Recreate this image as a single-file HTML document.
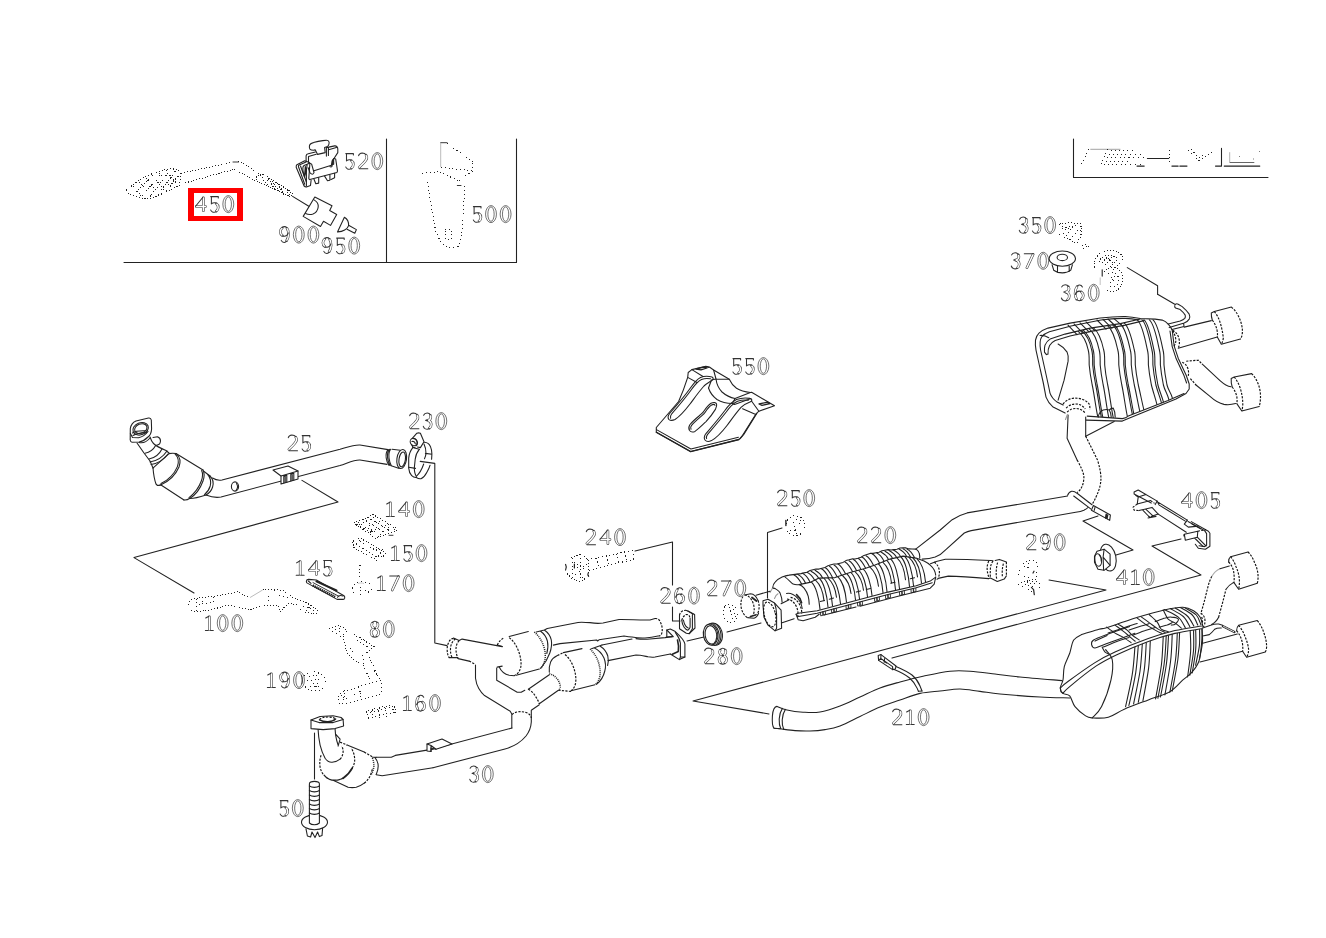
<!DOCTYPE html>
<html><head><meta charset="utf-8"><title>Exhaust system diagram</title>
<style>
html,body{margin:0;padding:0;background:#fff;}
body{width:1326px;height:938px;overflow:hidden;font-family:"Liberation Sans",sans-serif;}
svg{display:block;position:absolute;left:0;top:0;}
.l{fill:none;stroke:#222;stroke-width:1.08;stroke-linecap:round;stroke-linejoin:round;}
.w{fill:#fff;stroke:#222;stroke-width:1.08;stroke-linecap:round;stroke-linejoin:round;}
.f{fill:#262626;stroke:none;}
.d{fill:none;stroke:#222;stroke-width:1;stroke-dasharray:1 1.9;shape-rendering:crispEdges;}
.d2{fill:none;stroke:#222;stroke-width:1;stroke-dasharray:1 1.4;shape-rendering:crispEdges;}
.dd{stroke-dasharray:2.2 1.3;stroke-linecap:butt;stroke:#111;stroke-width:1.15;}
.dh{stroke-width:1.5;stroke-dasharray:1 1;stroke-linecap:butt;}
.d3{fill:none;stroke:#222;stroke-width:1;stroke-dasharray:1 2.8;shape-rendering:crispEdges;}
.gk{fill:none;stroke:#383838;stroke-width:2.6;stroke-linecap:round;stroke-linejoin:round;}
.gw{fill:none;stroke:#fff;stroke-width:1.5;stroke-linecap:round;stroke-linejoin:round;}
.gn{fill:none;stroke:#333;stroke-width:1.05;stroke-linecap:round;stroke-linejoin:round;}
.t{font-family:"Liberation Sans",sans-serif;font-size:22px;fill:#000;fill-opacity:0;stroke:none;}
.go{fill:none;stroke:#383838;stroke-width:0.7;}
</style></head><body>
<svg width="1326" height="938" viewBox="0 0 1326 938">
<rect width="1326" height="938" fill="#fff"/>

<!-- 00_frames.svg -->
<g id="frames" class="l">
<path d="M124 262.5H516.5V139M386.5 139V262"/>
<path d="M1073.5 139V177.5H1268"/>
</g>
<path d="M188 188H243V221H188ZM194 193V216H237V193Z" fill="#ff0000" fill-rule="evenodd"/>
<!-- 05_leaders.svg -->
<g id="leaders" class="l">
<path d="M302 480.4L338 502L134 557.6L194 593"/>
<path d="M420.2 461.4L434.8 463.4V643L447 645.6"/>
<path d="M314.5 733V779"/>
<path d="M635 551L672.5 542V585M672.5 607V621H680"/>
<path d="M782 528L767.5 532.4V598"/>
<path d="M687 641L704 637M727 632L761 623"/>
<path d="M769 714L693 701L1106 590L1049 580"/>
<path d="M892 658L1201 575L1152 546L1181 539"/>
<path d="M1098 516L1083 521L1133 550L1116 555"/>
</g>
<!-- 10_topleft.svg -->
<g id="clip520" class="l">
<path d="M309.4 146.1C309.5 144 311 143.2 313.5 142.6C317 141.6 320 141 322.8 140.6C325 140.3 327.5 140 328.1 140.6C329.3 141.5 329.4 142.6 329 143.8C328.7 145.2 328.2 146 327.5 146.4L324.6 147.6L325.2 152.6L317.6 154.4L315.2 149.7C314.5 150 314 150.2 313.5 150.2C312 150.2 310.5 149.8 309.9 149.1C309.5 148.3 309.3 147.2 309.4 146.1Z"/>
<path d="M326.4 147.9V156.1M328.4 147.6V155.5M326.4 147.6L334.6 145.9C335.6 145.8 336.4 146.1 336.9 146.7C337.5 147.4 337.8 148.2 337.8 149.1V152.6L334 158.5M328.7 149.7L336.3 147.6"/>
<path d="M306.1 162V155.8C306.3 154.6 307 154 308.2 153.8L315.4 152M308.5 162.3V156.4L316.2 154.3"/>
<path d="M309.4 162.6L304.7 160.8L296.9 164.7C296.3 165.3 296.1 166.2 296.2 167.3L304.1 186C304.8 186.7 305.6 187 306.4 186.9L310.5 185.4L311.1 180.2"/>
<path d="M298.4 166.5L304.7 184.3M298.4 166.5C298.3 165.8 298.6 165.3 299.2 165L305.5 162.2M300.5 166L306.4 182"/>
<path d="M306.4 186V170.2M306.4 170.2L307.2 164.5M302.9 171L302.9 167.8C303 166.6 303.4 165.9 304.1 165.5L307 164.3L309.4 163.2C310.6 163.3 311.4 163.7 311.7 164.3L314 172.5C313.8 173.6 313.2 174.2 312.3 174.3C311.2 174 310.4 173.4 309.9 172.5L308.2 167.8"/>
<path d="M302.9 171L304.5 177M305.3 166.5L304.5 177L306.3 170.5Z" fill="#2a2a2a"/>
<path d="M309.9 163L308.8 178.4C309 179.2 309.4 179.6 309.9 179.6L336.9 172.5C337.3 172 337.5 171.4 337.5 170.8L335.7 159L334 158.5"/>
<path d="M314 170.8L332.2 164.9V160.8L334 158.5M332.2 164.9C332.4 166 332 166.8 331.2 167C330.4 167 329.9 166.6 329.9 165.9"/>
<path d="M332.4 160.5L333.6 158.8L333.7 164.3L331.5 164.8Z" fill="#2a2a2a"/>
<path d="M314 179.2L315.8 183.7L318.7 183.1V177.6M324.6 176.1L327.5 180.7L329.9 180.2V174.9M334.6 173.3V177.8L331.1 179.5"/>
</g>
<g id="conn900" class="l">
<path d="M292.6 196.4L308.8 206.2"/>
<path d="M314.8 197L332 205.8L329.7 210.5L336.7 214.5L330.5 225.4L323.5 221.3L320.5 226.5L303.2 216.4Z"/>
<path d="M313.7 199.6C317 201.5 318.6 204.3 318.2 207C317.8 210.5 315.5 212.9 313 213.9C310.5 214.8 307.8 214.5 305.6 213.5"/>
<path d="M344.4 217.3C347 218.8 348.8 222 348.6 225.6C347.5 229 343 232 337.5 231.9Z"/>
<path d="M348.6 225.3L356.4 229.6L354.8 233.2L347 229.2"/>
</g>
<!-- 11_dotted_topleft.svg -->
<g id="sensor450">
<path class="d" d="M126.5 190C132 185.5 138 180.5 144.4 177.1C154 172.5 164 169.5 174.3 168.3L181 171.7"/>
<path class="d" d="M126.5 190.5L128.5 193.6C135 196.5 143 198.8 149.9 198.9C160 195 170 190 179.7 185.3L181 172"/>
<path class="d" d="M133 186.5L141 195.5M139 182L151 195.5M146 178L158 193.5M152 175.5L165 190.5M159 173L171 187.5M166 170.5L177 184M173 169L180 178"/>
<path class="d" d="M136 192L150 178M142 195.5L160 175.5M150 197L168 173M158 194.5L175 172M166 190.5L179 175"/>
<path class="d" d="M181 173.2L231.3 162.4M185 183L234 169.2"/>
<path class="l" d="M233 162H238.5" style="stroke-width:.9"/>
<path class="d" d="M238 161.8C241 162 243 163 245 164.5L262 176M234 169.2L257 181.5"/>
<path class="d2" d="M256 176.5L262 174L291 191.5L288.5 196L257 181.5Z"/>
<path class="d" d="M262 177.5L268 186M267 176L275 190M272 181L280 192.5M278 184L284 195M270 178L263 183.5M277 182L270 188M284 187L277 192"/>
<path class="d2" d="M288 190.5L292.5 193.5L290.5 196.5L287 195Z"/>
</g>
<g id="bracket500">
<path class="l" d="M440.7 142.7H447.1" style="stroke-width:.9"/>
<path d="M440.7 143V167" stroke="#aaa" stroke-width=".8" fill="none"/>
<path class="d3" d="M447.5 143.5L473.3 162.5M441 167.5L472.7 170.8M473 163L472 171M422.2 173.4L439.4 171.5M440 172L461 182M472.5 171L458 181.5"/>
<path class="d3" d="M427.3 182.3L435.6 231L440.7 242.4L447.1 247.6L458.6 246.9M465 186.2L461.8 234.8L458.6 246.9"/>
<path class="d3" d="M445 229.7H451.6V239.2H445Z"/>
<path class="l" d="M457.3 185.5H461" style="stroke-width:.9"/>
</g>
<!-- 12_amg.svg -->
<g id="amg">
<path class="d3" d="M1081.6 164L1088.8 149"/>
<path d="M1090.3 149.3H1120.4" stroke="#999" stroke-width=".9" fill="none"/>
<path class="d3" d="M1101 164L1108 149M1104.5 165L1112 148.5M1108.5 165L1116 148.5M1112.5 165L1120 148.5M1116.5 165L1124.5 148.5M1121 165L1128.5 149M1125.5 165L1132.5 150M1130 165L1137 151M1135 165L1141 153M1140 165L1144 157"/>
<path class="l" d="M1137 166.1H1144.2M1147.4 158.5H1168.7M1171.9 166.1H1178.2M1179.8 166.1H1187M1215.5 166.1H1221.5V148.2M1224.2 166.1H1259.8"/>
<path class="d3" d="M1169.5 149.8V161.7M1188.5 149.8L1198 160.9L1215.5 149.8M1191 149.5L1199 157.5L1211 149.8"/>
<path d="M1229.7 152.2V162.5" stroke="#aaa" stroke-width=".9" fill="none"/>
<path d="M1229.7 162.5H1254.3" stroke="#555" stroke-width=".9" fill="none"/>
<path class="f" d="M1239 156h1v1h-1zM1253 158.5h1v1h-1zM1259 151h1v1h-1z" opacity=".6"/>
</g>
<!-- 20_pipe25.svg -->
<g id="pipe25" class="l">
<!-- flange -->
<path d="M130.3 428.5C131 424.5 133.5 422 136 421L148.5 418C150 417.7 151 418.5 151.3 420L151.6 429C151.4 432.5 150 435.5 148 437C145.5 439.5 142 441.5 139 442L132 442.3C130.8 442 130.3 441.2 130.2 440Z"/>
<path d="M130.4 433.5L132.5 437.5L138.5 437.8C142 437 145.5 434.8 148 431.5"/>
<ellipse cx="140.6" cy="428.8" rx="8" ry="6" transform="rotate(-22 140.6 428.8)"/>
<ellipse cx="140.8" cy="428.6" rx="6.4" ry="4.6" transform="rotate(-22 140.8 428.6)"/>
<path d="M132.5 433C134.5 431.5 139 430.5 146 430.8M133 435.5C136 433.6 141 432.8 146.5 432.6"/>
<!-- neck -->
<path d="M137 443L144 453L150 461L153 468"/>
<path d="M150 437C151 440 152 442 153.5 443.5C156 446 161 448.5 166 450.5L169 453"/>
<path d="M153 437.5L157.5 436.8C159.5 437.5 160.5 439 160.5 441C160.3 442.6 159.8 443.6 159.5 444L157 445.2"/>
<path d="M139 442.5C143 443.5 147 441.5 150 438M145 453.2C149.5 452.5 153.5 449.5 156 445M149 459C154.5 458 159.5 454 162 449M150 462C156 461 163 457 167 451M151 464.5C157.5 463.5 164 459.5 168 454"/>
<!-- cat cone + body -->
<path d="M153 468C153.5 474 154.5 480 156 484L157.5 485.5L161 485"/>
<path d="M153 468C156 465.5 163 459 169 453.6C171 453.2 173.5 453.2 176 453.5"/>
<path d="M176.5 453.8C180 457 180.8 462 179 467C176 474 169 481 161.5 484.5C160 485.3 158.5 485.6 157.5 485.5"/>
<path d="M175 453.8C178.3 457 179 462 177.4 466.6C174.5 473.5 168 480 161 483.6"/>
<path d="M176 453.5L203 470M161 485L184 500"/>
<path d="M203 470C204.6 473 204.4 477 203 481C200.5 488 196 494.5 190 498.3C188 499.6 185.8 500.3 184 500"/>
<path d="M201.6 470.6C203 473.5 202.8 477 201.4 480.8C199 487.5 194.5 493.5 189 497.6"/>
<path d="M203.4 471L210 476M190 498.5C195 498.5 200 497 206 495"/>
<path d="M210 476C213 479 213.8 483 212.6 487C211.5 490.5 209 493.5 206 495M207.8 474.6C210.6 478 211.2 482 210.2 486C209.2 489.5 207 492.6 204.4 494.6"/>
<!-- pipe -->
<path d="M212.5 478C215 479.6 219 480.6 222 480L340 449.3C347 447.3 354 444.6 360 445L388 449.6"/>
<path d="M206 495C211 497 216 498 221 497L340 465.6C347 463.5 354 459.6 360 460L387 464.4"/>
<ellipse cx="235" cy="486.5" rx="3.6" ry="4.6"/>
<path d="M236.5 483.5C237.8 485.5 237.8 488.5 236 490.5"/>
<!-- bracket -->
<path class="w" d="M273 470L288 466L298 471L298 479L281 484L281 476Z"/>
<path d="M281 476L298 471M283.8 476.2V483M286.8 475.3V482.2M283.8 476.2L286.8 475.3M290.8 474.1V481M293.8 473.2V480.1M290.8 474.1L293.8 473.2M285.2 476V482.4M292.2 473.9V480.4"/>
<!-- pipe end -->
<path d="M388 449.6C386 452 385.8 455 386.2 458C386.6 461 387.4 463 388.8 465.2M389.4 449.4C387.4 452 387.2 455 387.6 458C388 461 388.8 463 390 465.4M390.6 449.3C388.8 452 388.6 455 389 458C389.4 461 390 463 391.2 465.6"/>
<path d="M392 449.3L400.2 450.2M391.2 465.8L399.3 468.4"/>
<ellipse cx="401.7" cy="459" rx="4.8" ry="9.6" transform="rotate(8 401.7 459)"/>
<ellipse cx="402.2" cy="459.4" rx="3.2" ry="7.4" transform="rotate(8 402.2 459.4)"/>
</g>
<g id="clamp230" class="l">
<path d="M412.8 447.6C410.5 450.5 409 454 408.7 458.1V468.1C409 471.5 410 474 411.7 475.7C413 477 414.8 477.6 416.3 477.5"/>
<path d="M419.3 449.3C417 452 415.6 455.5 415.2 459.3L414.3 468.1C414.4 471.5 415 474.5 416.3 476.3"/>
<path d="M412.8 447.6L419.3 449.3M408.7 467.2L415.5 468.4"/>
<path d="M416.3 476.3C419.5 473.5 422 469 423.7 464M416.3 477.5C418 478.6 419.5 479 421 478.7C423.5 477.5 425.5 475 426.9 472.2C428.3 470 429.4 467.6 430.1 465.2"/>
<path d="M424.5 442.3C427 442.5 429.2 444 430.4 446.4C431.4 448.8 431.9 451.4 431.9 454L431.6 459.3M424 444.1C425.4 447 426 450 426 453.4C425.8 455.4 425.3 457.2 424.5 458.7M425.4 453.4L431.9 454.3"/>
<path d="M412.5 438.2L416.9 433.2C418 432.8 419.3 432.8 420.4 433.2L424 441.7L420.4 447.6L417.5 447"/>
<ellipse cx="413.6" cy="442" rx="3.3" ry="3.8" transform="rotate(-25 413.6 442)"/>
<path d="M412.5 438.5C415 438.5 417 440 417.5 442.5C417.6 444 417 445.2 416 445.8M412 441.5C413.5 441 415 442 415.2 443.5M411.6 444.5L413 447.2L415 447.8" style="stroke-width:1.2"/>
</g>
<!-- 21_dotted_left.svg -->
<g id="part100">
<path class="d" d="M188.8 605C189 601.5 190.5 599.5 192.5 598.8L213.8 596.3L237.6 591.9L250.1 597.5M188.8 605.5C189.5 609 191 611.3 193.8 611.9L210 610L228.8 605L250.1 610L265.1 605H277.6L280.1 611.9L285.1 606.3L288.9 603.2L297.7 605"/>
<path d="M250.1 597.5L262.6 590" stroke="#aaa" stroke-width=".8" fill="none"/>
<path class="d" d="M262.6 590L272.6 589.4L283.9 590.6L291.4 596.9L305.2 601.9L317.7 610L316.4 613.8L305.2 612.6L298.9 608.2"/>
<path class="d3" d="M196 598.5V610.5M203 597.5L202 603M213 597V602.5L198 604.5M268.2 596V600.5M274 590L280 596L288 597.5M303 606L312 608.5L314 612M306 610.5L310 606.5"/>
</g>
<g id="part145" class="l">
<path d="M306.4 581.2C306.6 580 307.4 579.4 308.6 579.4L316.4 580L344 595.7C344.8 596.6 344.9 597.6 344.6 598.4C344.2 599.1 343.6 599.4 343 599.4H337.1L306.9 582.9C306.4 582.4 306.3 581.8 306.4 581.2Z"/>
<path d="M316.4 581.3L336.5 590.5" style="stroke-width:2"/>
<path d="M313 582.6L339 596.4" style="stroke-width:.9"/>
<path d="M312.7 585.4L335.2 596.9" style="stroke-width:2.4;stroke-dasharray:1.4 .6;stroke-linecap:butt"/>
<path d="M308.3 581L311 583.4M337.5 597.2C338.5 595.6 340.5 595 343 596"/>
</g>
<g id="part140">
<path class="d" d="M353.9 523.1L373.1 514.6L398.7 529.5L375.2 538.1Z"/>
<path class="d3" d="M358 522L380 535M363 519.5L385 533M368 517.5L391 531.5M356 526L374 517.5M362 529.5L381 520.5M368 533L388 524M357 524.5L376 535"/>
<path class="d" d="M388 524V531M393 527L395.5 530.5M383.5 532.5L378 537"/>
<path class="l" d="M389 535.3H393" style="stroke-width:.9"/>
</g>
<g id="part150">
<path class="d" d="M352.8 541.3L360.3 538.1L385.9 553L377.3 560.5L353.9 547.7Z"/>
<path class="d3" d="M356 544.5L378 557.5M360 541L383 554.5M353.5 546L360 540"/>
<path class="d" d="M376 549.5L383 549L378.5 556L384 557M374 559L379 553"/>
</g>
<g id="part170">
<path class="d3" d="M359.7 564.7V578.6M359.7 565L363.5 566.3"/>
<path class="d3" d="M352.3 588C353 585 356 582.5 360 582C365 581.5 370 583 372 586C372.5 588.5 371 590.5 368.5 591.5L366.5 595.5M352.3 588C352.5 591 353.5 593.5 355.5 595.5M360 586.5V594.5M365.5 590V594"/>
<path d="M358 583.5C360 582.8 362 582.8 364 583.5" stroke="#bbb" stroke-width=".8" fill="none"/>
</g>
<g id="part80">
<path class="d" d="M329.3 628.5L339.9 625.6L346.9 630.2L343.4 637.3L346.9 652.5L353.9 659.6L363.3 665.4L370.4 680.7"/>
<path class="d" d="M353.9 634.4L373.9 646.7L366.8 652.5L372.7 664.3L376.2 673.6L380.9 679.5"/>
<path class="d3" d="M380.9 679.5L382.1 690L379.7 694.7L349.3 703L339.9 704L337.5 697L342.2 692.4L363.3 685.4L380.9 680"/>
<path class="d3" d="M332 631.5L341 627.5M336 634L344 629.5M340 637L345.5 632.5M357 640L369 647.5M360 637.5L371 644.5M362 651.5L364 664M350 648L354 655M374.5 671L377.5 678"/>
<path class="d" d="M341 695.5L347 699M354 694.5L360 691.5V697M345 690L343.5 701"/>
</g>
<g id="part190">
<path class="d3" d="M304 676C307 672.5 312 671 317 672.5C322 674 325.5 678 325.8 682.5C325 687 321 690.5 316 691C311 691 306.5 689 304.5 686"/>
<path class="d3" d="M309 676.5C312 674.5 316.5 675 319.5 677.5M310 686L320 687M313 683.5L318 688.5M318 683.5L313.5 688.5M307 680.5L322 679.5"/>
<path class="l" d="M301.5 675.5C302.6 678 302.8 681.5 301.8 684" style="stroke-width:.9"/>
</g>
<g id="part160">
<path class="d" d="M366 712.5C367.5 710.5 370 710 371.5 711.5L373 720M372 710.5C374 708.5 377 708 378.5 710L380 718.5M379 708.5C381 706.5 384 706.5 385.5 708.5L387 716.5M386.5 707C388.5 705.5 391 705.5 392.5 707L394 714.5M394.5 706.5L396 713.5"/>
<path class="d3" d="M367 714L370 719.5M368 718.5L396 712M366.5 713L394 706.5"/>
</g>
<!-- 30_ypipe.svg -->
<g id="ypipe" class="l">
<!-- inlet ring -->
<path d="M453.5 638.1L459.1 640.6L462.1 639.1L502.2 646.6M449 657.6H457.6L458.1 658.6L469.1 661.1"/>
<path class="dd" d="M453.5 638.3C450.5 638.3 447.6 642.5 447.2 648C447 653 448 656.5 449.5 657.6M455.5 639C452.8 640.5 450.8 644 450.5 648.5C450.3 652.5 451 655.8 452.3 657.6M459.1 640.6C457 643 456 646 456 649.1C456 652.5 456.8 656 458.1 658.6"/>
<path class="dd" d="M469.1 661.1L475.1 664.1"/>
<!-- left outer edge down to joint -->
<path d="M475.5 665V678.2C476 682 477 685.5 478.8 688.6C480.3 691.2 482 693.4 484.1 695.2L510.2 711.3L511.8 714V728"/>
<!-- lower pipe 30 -->
<path d="M433 749.1L512 728M433 767.7L505 749C514 746.5 521 742 526 736C529.5 731.5 531 727 531.3 722V710.3L539.3 704.8"/>
<path class="dd" d="M512 714.5C515 711.5 521 711 526 712.5C529 713.5 531 715.5 531.3 718"/>
<!-- crotch -->
<path d="M497.2 667.1L502.2 666.1M496.7 668.1V680.2L517.2 692.2H521.2L524.8 690.2"/>
<path d="M499.2 667.1C501 671 505 674.5 509.2 675.2L514.2 675.7"/>
<!-- cat1 -->
<path d="M497.2 645.1L502.2 646.6"/>
<path class="dd" d="M497.2 645.1C499 641.5 501.5 639 504.2 637.6"/>
<path d="M509.2 636.5L528.3 631.5M516.2 675.2L539.3 669.1"/>
<path class="dd" d="M509.2 637.6C513.5 641 516.5 645.5 518.5 651C520.5 656.5 521.6 662 520.8 667C520 671 517.8 674 514.2 675.7"/>
<path class="dh" d="M534.3 632C539 636 542 641 543.8 646.5C545.4 652 545.8 657 544.5 661.5C543.5 665 541.8 667.5 539.3 669.1"/>
<path d="M536.3 632L544.3 630L547.3 628.5M544.3 630C548 632.5 550.4 636 551.3 640C552 644 551.4 648.5 549.8 653C548 658 545 663.5 541 668M540.3 631C544 633.6 546.3 637 547.4 641C548.3 645 548 649 546.8 653.5"/>
<!-- pipe 1 -->
<path d="M547.3 628.5L560 626L578 622.5C582 622 586 622.6 590 622.6C594.5 623.4 599 623.6 603 623L619 619.5C629 619.3 640 620.4 650 620L655 618.5"/>
<path class="dd" d="M655 618.5C657 618.4 658.4 619 659.4 620.4C661 623 662 625.5 662.2 628.5C662.4 631 662 633 661.4 634.4C660.6 635.6 659.4 636 658 636"/>
<path d="M553.3 645.1L560 643.6L596.6 640L597.6 641L599 639.8L624 636C627 636.6 629.5 637 632 637C636 637.8 641 638.2 645 638C650 637.7 654 637 658 636"/>
<!-- branch to cat2 -->
<path d="M528.3 689.2L549.3 674.7M539.3 703.8L558.4 690.2"/>
<path class="dd" d="M528.3 689.2C531 690.5 533.4 693 535.3 696C537 698.6 538.4 701 539.3 703.8"/>
<path class="dh" d="M549.3 673.7C553 674.6 556 677 558 680C559.6 682.6 560.4 685.4 560.2 687.4C560 688.8 559.4 689.6 558.4 690.2"/>
<!-- cat2 -->
<path d="M549.3 672.2C549 668.5 549.4 665 550.6 662.1C552 659.2 554.3 657 557.4 655.6"/>
<path d="M563.4 652.6L582 648.6M571 690.7L595 684.7"/>
<path class="dd" d="M558.4 690.2L571 691.5M557.4 655.6L563.4 652.6"/>
<path class="dd" d="M565 654.5C569 658 571.6 662 573.4 667C575.4 672.5 576.4 678 575.6 683C575 686.5 573.4 689 571 690.7"/>
<path class="dh" d="M590 649C594 652.5 596.6 657 598.4 662C600 667.5 600.6 672 599.8 676.5C599 680 597.4 683 595 684.7"/>
<path d="M591.5 648.8L602 645M594 647.8C598.5 650 602 653.6 604 658C605.6 662 606 666.5 604.8 671C603.6 676 601 681 596.5 684.3M600 646C604 648.6 606.6 652 607.8 656C608.6 659.4 608.4 662.5 607.6 665.5"/>
<!-- pipe 2 -->
<path d="M602 645L632 639M636 638.6C641 639.4 646 639.3 650 639L665 637.6L672 636.6"/>
<path d="M608 660.6L636 655C640 655 644 656 648 656.8C651 657.3 653 657.3 655 657L670.3 654"/>
<!-- flange -->
<path d="M666.8 637V630L670.3 629L675.3 631.6C678 634 680.4 636.5 682.4 639C683.8 641 684.6 642.6 684.9 644V657L679.4 659.6L670.3 654"/>
<path d="M666.8 630L673.3 636.6M666.8 637L673.3 636.6M675.3 632.4C678 636 679.8 639.5 680.4 643V657L679.4 659.6M680.4 657L684.9 657" />
<path d="M677.5 640C678.6 644 678.8 648 678.3 651.5L672.3 654.2" style="stroke-width:1.6"/>
</g>
<!-- 31_pipe30_left.svg -->
<g id="pipe30left" class="l">
<!-- flange -->
<path d="M311 720L320.1 716.5L333.1 715.8L341.1 717.5L343.1 719.5L343.6 726.1L335.1 728.6L323.1 729.6L311 728.6Z"/>
<path d="M311 720L319.1 722.6H333.1L343.1 719.5"/>
<path class="dd" d="M319.5 719.5C321 717.8 324 717 327.5 717C331 717 334 717.6 335.6 718.8"/>
<path d="M319.5 719.8C322 721.3 325 721.8 328 721.7C331.5 721.6 334 720.6 335.6 719" style="stroke-width:1.5"/>
<!-- elbow -->
<path d="M318.1 729.6C318.3 735 319 740 320.1 745.1C321.3 750 323 754.5 325.1 758.2C327 761 329.5 762.4 332.1 762.2C335 762 338 761 340.1 759.2"/>
<path class="dd" d="M340.1 759.2C341.8 757.5 342.8 755 343.1 752.1C343.2 749.5 342.6 747.5 341.6 746"/>
<path d="M335.1 729.1L335.6 735.1C336.2 738.5 337 742 338.1 745.1M335.6 734.1L340.1 739.1L338.1 746.1" />
<!-- cat -->
<path class="dd" d="M340.1 742.1L347.1 745.1"/>
<path d="M347.1 745.1L364.2 752.1"/>
<path class="dd" d="M364.2 752.1L373.2 757.2"/>
<path class="dd" d="M321.1 755.2C319.8 759 319.5 763 320.1 767.2C320.8 770.5 322 773 324.1 775.2"/>
<path d="M324.1 775.2C326.5 778 329.5 779.8 333.1 780.2C336.5 780.4 340 779.8 343.1 778.2" style="stroke-width:1.3;stroke-dasharray:2 .8"/>
<path d="M343.1 778.2C347 775.6 350 772.4 352.2 768.2" style="stroke-width:1.8"/>
<path class="dd" d="M352.2 768.2C354 765 354.8 762 354.7 759.2C354.5 755 353.2 751 351.2 748.1"/>
<path d="M333.1 780.2L348.1 787.2C351 787.8 353.5 787.8 356.2 787.2C359.5 786.3 362 785 364.2 783.2"/>
<path class="dd" d="M364.2 783.2C367 781 369 778.5 370.4 775.2C371.6 772.5 372.2 770 372.4 768"/>
<path class="dh" d="M372.4 758C373.6 761 374 764 373.8 767C373.4 770 372.4 772.6 371 775"/>
<path d="M374.8 757.4C377 760 378.2 763 378.2 766C378.2 769 377.4 772 376.2 774.4M372.6 757.2L376.2 757.2"/>
<!-- pipe -->
<path d="M376.2 757.2H391.3L395.3 755.4L433 749.1M376.2 774.7L382.2 775.7L433 767.7"/>
<!-- bracket -->
<path class="w" d="M427 744L442 739L452 744L436 749.3L431 748V751.5L427 751Z"/>
<path d="M431 745.5V751.5M427 744L431 745.5L436 749.3"/>
</g>
<g id="bolt50" class="l">
<ellipse class="w" cx="314.5" cy="822.3" rx="13" ry="7.4"/>
<path class="w" d="M309.4 783.8C309.6 782.2 312 781.4 314.4 781.4C317 781.4 319.2 782.2 319.4 783.8V823C318 824.2 316 824.8 314.4 824.8C312.6 824.8 310.6 824.2 309.4 823Z"/>
<path d="M309.4 786C312 787.8 316.8 787.8 319.4 786M309.4 790.5C312 792.3 316.8 792.3 319.4 790.5M309.4 795C312 796.8 316.8 796.8 319.4 795M309.4 799.5C312 801.3 316.8 801.3 319.4 799.5M309.4 804C312 805.8 316.8 805.8 319.4 804M309.4 808.5C312 810.3 316.8 810.3 319.4 808.5M309.4 813C312 814.8 316.8 814.8 319.4 813"/>
<path d="M306 828.8L307.4 836L310.6 837L312 832L315 837.6L317.6 832L319.4 836.6L322 835.6L322.6 828.4"/>
</g>
<!-- 40_muffler220.svg -->
<g id="muffler220" class="l">
<path class="w" d="M763 600.7L768 599.2L774.1 602.7L781.1 610.2L781.6 628.3L775.1 630.8L768 625.2L764 617.2L763 605.2Z"/>
<path d="M774.6 603.2C775.8 606.5 776.5 610 776.6 614.2V628.3L775.1 630.8"/>
<ellipse class="dd" cx="769.8" cy="614.4" rx="5.6" ry="12.6" transform="rotate(-14 769.8 614.4)"/>
<path d="M781.1 603.7L789.1 599.7M782.1 622.7L794.1 618.7"/>
<path class="dd" d="M787 599C791 599.4 794.6 602.5 796.6 607C798 610.5 798.4 614 797.6 617M790.6 597.4C794.4 598 798 601 800 605.4C801.4 608.6 802 611.6 801.6 614"/>
<path d="M796.6 594.6C799 596.6 800.8 599.4 801.6 602.6" style="stroke-width:1.6"/>
<path d="M772.6 588.1C772.8 585.5 773.6 583.5 775.1 582.1C777 580 779.5 578.3 782.1 577.1C784.5 576 787 575.3 789.1 575.1L797.1 574.1"/>
<path d="M772.6 588.1C774 588.2 775.2 588.5 776.1 589.1C778 590.3 779.4 591.6 780.1 593.1C781.3 596 782 599 782.1 602.2"/>
<path d="M770 592.5L772.6 588.1M774.5 598.5C775.5 596 776.5 594.6 778 593.8" stroke="#999"/>
<path d="M797.1 574.1L801.0 573.6L804.0 572.9L807.0 572.2L810.0 570.6L813.0 569.8L816.0 569.0L819.0 569.1L822.0 568.2L825.0 567.4L828.0 565.7L831.0 564.8L834.0 564.0L837.0 564.0L840.0 563.2L843.0 562.4L846.0 560.6L849.0 559.8L852.0 558.9L855.0 559.0L858.0 558.2L861.0 557.3L864.0 555.4L867.0 554.4L870.0 553.4L873.0 553.4L876.0 552.8L879.0 552.2L882.0 550.8L885.0 550.2L888.0 549.6L891.0 550.0L894.0 549.6L897.0 549.2L900.0 548.0L903.0 547.7L906.0 547.9L909.0 548.9L912.0 549.0L916.2 549.1C918 550.5 919 552 919.3 553.5C919.7 555 919.8 556.6 919.7 558.1"/>
<path d="M785.1 577.1C788 579 790.5 582 793.1 584.1C795 584.8 797 584.9 799.1 584.6L811 582.1L819 578.1L835 577.6L850 572.6L865 568.6L875 565L890 559.1L903 556.1L916 558.1L924 561.1C927 562.6 929 564 930.2 565.1C932 566.6 933.4 568.4 934.2 570.1C935 571.8 935.5 573.5 935.7 575.1"/>
<path d="M799.1 584.6C801 585.4 802.8 586.6 804.1 588.1C806 590.5 807.4 593.2 808.2 596.2C808.8 598.8 809.2 601.5 809.2 604.2"/>
<path d="M796.1 614.2L798.1 613.2L817.2 610.7L888 592.1L916.2 585.7L930.2 581.1L935.7 577.1"/>
<path d="M796.1 614.2L797.1 616.7L817.2 613.2L888 594.6L916.2 587.7L932.2 582.7"/>
<path d="M797.1 616.7L798.1 619.7L803.1 620.7L815.2 617.2L819.2 614.2M860 606.2L898.1 596.2L920.2 590.7L930.2 588.2L934.2 584.2L935.7 577.1M824 615L856 607"/>
<path d="M820.5 612.4l.2 3.4l2.2 -.5l-.2 -3.4M823.1 611.7l.2 3.4l2.2 -.5l-.2 -3.4" style="stroke-width:.9"/>
<path d="M831.5 609.5l.2 3.4l2.2 -.5l-.2 -3.4M834.1 608.8l.2 3.4l2.2 -.5l-.2 -3.4" style="stroke-width:.9"/>
<path d="M846.0 605.7l.2 3.4l2.2 -.5l-.2 -3.4M848.6 605.0l.2 3.4l2.2 -.5l-.2 -3.4" style="stroke-width:.9"/>
<path d="M857.5 602.7l.2 3.4l2.2 -.5l-.2 -3.4M860.1 602.0l.2 3.4l2.2 -.5l-.2 -3.4" style="stroke-width:.9"/>
<path d="M874.5 598.2l.2 3.4l2.2 -.5l-.2 -3.4M877.1 597.5l.2 3.4l2.2 -.5l-.2 -3.4" style="stroke-width:.9"/>
<path d="M885.5 595.4l.2 3.4l2.2 -.5l-.2 -3.4M888.1 594.7l.2 3.4l2.2 -.5l-.2 -3.4" style="stroke-width:.9"/>
<path d="M899.5 592.1l.2 3.4l2.2 -.5l-.2 -3.4M902.1 591.4l.2 3.4l2.2 -.5l-.2 -3.4" style="stroke-width:.9"/>
<path d="M911.0 589.4l.2 3.4l2.2 -.5l-.2 -3.4M913.6 588.7l.2 3.4l2.2 -.5l-.2 -3.4" style="stroke-width:.9"/>
<path d="M811.5 582.2C815.5 585.9 819.0 596.8 820.0 609.1M815.5 580.2C819.5 583.9 823.0 591.2 824.0 600.6M819.5 578.5C823.5 582.1 827.0 594.0 828.0 607.0M824.0 578.3C828.0 581.9 831.5 593.3 832.5 605.8M828.0 578.2C832.0 581.8 835.5 588.5 836.5 597.3M832.0 578.1C836.0 581.7 839.5 592.0 840.5 603.7M838.0 577.0C842.0 580.6 845.5 590.7 846.5 602.2M842.5 575.5C846.5 579.1 850.0 585.2 851.0 593.5M847.0 574.0C851.0 577.6 854.5 588.0 855.5 599.8M851.0 572.7C855.0 576.3 858.5 586.9 859.5 598.8M855.0 571.7C859.0 575.3 862.5 581.7 863.5 590.2M859.0 570.6C863.0 574.2 866.5 584.8 867.5 596.7M863.5 569.4C867.5 573.0 871.0 583.6 872.0 595.5M870.0 567.2C874.0 570.8 877.5 577.5 878.5 586.3M874.5 565.6C878.5 569.2 882.0 580.3 883.0 592.6M878.5 564.0C882.5 567.6 886.0 579.0 887.0 591.6M883.0 562.3C887.0 565.9 890.5 573.5 891.5 583.0M887.0 560.7C891.0 564.3 894.5 576.4 895.5 589.6M891.0 559.3C895.0 562.9 898.5 575.3 899.5 588.7M897.0 557.9C901.0 561.5 904.5 569.8 905.5 579.8M901.0 557.0C905.0 560.6 908.5 573.0 909.5 586.4M905.0 556.8C909.0 560.4 912.5 572.4 913.5 585.5M909.0 557.4C913.0 561.0 916.5 568.0 917.5 576.9M913.0 558.0C917.0 561.6 920.5 571.6 921.5 583.1M917.0 558.9C921.0 562.5 924.5 571.3 925.5 581.8"/>
<path d="M820.3 601.5L824.5 600.4M829.3 599.2L833.5 598.1M856.3 592.1L860.5 591.0M866.3 589.5L870.5 588.4M890.8 583.3L895.0 582.2M910.3 578.8L914.5 577.7"/>
<path d="M794.0 575.0C797.0 576.5 800.0 580.8 801.5 583.8M798.0 574.4C801.0 575.9 804.0 579.9 805.5 582.9M802.5 573.3C805.5 574.8 808.5 579.0 810.0 582.0M807.0 572.3C810.0 573.8 813.0 577.1 814.5 580.1M811.0 571.3C814.0 572.8 817.0 575.1 818.5 578.1M815.0 570.3C818.0 571.8 821.0 574.7 822.5 577.7M821.0 568.6C824.0 570.1 827.0 574.5 828.5 577.5M825.0 567.5C828.0 569.0 831.0 574.4 832.5 577.4M829.5 566.2C832.5 567.7 835.5 573.6 837.0 576.6M834.0 565.0C837.0 566.5 840.0 572.1 841.5 575.1M838.0 563.9C841.0 565.4 844.0 570.8 845.5 573.8M845.0 561.9C848.0 563.4 851.0 568.6 852.5 571.6M849.0 560.8C852.0 562.3 855.0 567.6 856.5 570.6M853.5 559.5C856.5 561.0 859.5 566.4 861.0 569.4M858.0 558.3C861.0 559.8 864.0 565.1 865.5 568.1M862.0 557.0C865.0 558.5 868.0 563.7 869.5 566.7M866.0 555.7C869.0 557.2 872.0 562.2 873.5 565.2M872.0 553.7C875.0 555.2 878.0 559.9 879.5 562.9M876.5 552.8C879.5 554.3 882.5 558.2 884.0 561.2M881.0 552.0C884.0 553.5 887.0 556.4 888.5 559.4M885.0 551.2C888.0 552.7 891.0 555.2 892.5 558.2M889.0 550.4C892.0 551.9 895.0 554.3 896.5 557.3M893.0 549.8C896.0 551.3 899.0 553.4 900.5 556.4M899.0 549.1C902.0 550.6 905.0 553.3 906.5 556.3M903.0 548.7C906.0 550.2 909.0 554.0 910.5 557.0M907.0 548.9C910.0 550.4 913.0 554.6 914.5 557.6"/>
<path d="M786.5 593.5C790 592.8 794 594.4 797.5 598C800 600.8 801.6 604.4 802.2 608.5"/>
<path class="dd" d="M934.2 562.1C937 564 938.8 567 939.3 570.4C939.6 573.4 939.2 576 938.2 578.1"/>
<path d="M930.5 563.8L936.2 561.6L945.3 559.3C960 559 975 559.8 993 560.7M937 579.2L939.2 578.1L948.3 576.1C962 576.3 975 577.4 988.8 578.6"/>
<path class="dd" d="M988.8 561C987.4 564 986.9 567 987.2 570C987.5 572.8 988 575.2 988.8 577M993 561C991.2 563.6 990.4 566.2 990.4 569C990.2 572 990.2 574.8 990.4 577.5"/>
<path d="M995.2 560.5L999.4 559.4L1006.4 562M1006.4 575.9L1004.2 579.1L997.3 581.5L990.4 578L988.8 578.6"/>
<path class="dd" d="M1006.4 562V575.9M997.6 562.6C996.6 566 996.2 569.6 996.2 573C996.2 575.6 996.4 577.6 996.8 579M1003.4 563.6C1002.6 566.6 1002.2 569.6 1002.2 572.6C1002.2 574.8 1002.3 576.4 1002.6 577.6"/>
<path d="M915.7 549.1L940.2 530L952.2 519.7C957 516.5 962 514.2 967.1 512.9L1067.6 496M922.2 559.1C927 559 931.5 558.3 935.2 557.1C939 555.6 942.4 553.3 945.3 550.1L964.3 533C966.5 531.8 968.8 531 971.2 530.6L1075.7 512.3C1079 511.8 1081.6 511.2 1083.9 510.2C1085.6 509.4 1087 508.6 1088 507.5"/>
</g>
<!-- 41_smallparts_center.svg -->
<g id="gasket260" class="l">
<path class="dd" d="M679.5 615.2C680 613 680.8 612 681.8 611.4C683 610.6 684.4 610.3 685.6 610.3"/>
<path d="M685.6 610.3L687.8 611L694.6 614.4L695 628L689.3 633.6L686.3 633.3L679.5 628.7V615.2"/>
<path d="M687.8 611L693.1 614M692.4 614.4V628.7L689.3 633.6M681.8 620.4C682 623 682.8 625.4 684.1 627.2C685.2 628.8 686.4 629.8 687.8 630.2C689 629.6 689.8 628.6 690.1 627.2V618.2M683.4 620C683.8 622.6 684.6 624.6 685.8 626.2C686.6 627.2 687.4 627.8 688.2 628"/>
<path class="dd" d="M681.8 620.4C682.4 617.6 684 615.6 686 614.6C688 614 689.6 615.4 690.1 618.2"/>
</g>
<g id="ring280" class="l">
<ellipse cx="710.6" cy="634.6" rx="7.2" ry="10.6" transform="rotate(-8 710.6 634.6)"/>
<ellipse cx="710.9" cy="634.8" rx="5.8" ry="9.2" transform="rotate(-8 710.9 634.8)"/>
<path d="M709.4 624C712 622.8 715 623 717.4 624.6C720 626.6 721.8 630 722.4 634C722.8 638 721.6 641.6 719.4 643.8C717.4 645.4 714.6 645.6 712.2 645"/>
<path d="M713 623.6C716.4 626 718.6 630 719.2 634.6C719.6 638.6 718.4 642.4 716 644.8M715.4 623.6C718.6 626.2 720.6 630 721 634.4C721.2 638.4 720 642 718 644.4"/>
</g>
<g id="ring270">
<path class="d3" d="M725 606C727 603.5 730.5 603.5 733.5 606C736.5 608.5 738 612.5 737.5 616.5C737 620 734.5 622.5 731.5 622.5C728 622.5 724.8 619.5 723.8 615.5C723 612 723.5 608.5 725 606M729 607L733 619M732 605.5L735.5 617"/>
<g class="l" transform="translate(2 -1)">
<path class="dd" d="M741 597.5C738.8 600.5 738.4 605 739.4 609.6C740.4 613.6 742.6 617 745.6 618.6M742.6 596C746.4 596 750 600 751.6 605.6C752.6 609.6 752.4 613.6 751 616.4"/>
<path d="M745.6 618.6L752 619.2C754.2 618.6 755.8 616.8 756.6 614.2M742.6 596L748.6 594.8C751.6 595 754.4 597.6 756 601.4"/>
<path class="dd" d="M756 601.4C757.2 604.6 757.4 608 756.8 611C756.4 613 755.6 614.8 754.6 616"/>
<path d="M750 598.5L754.5 602M748.5 617.5L753.5 616" style="stroke-width:1.8"/>
<path d="M754 596.2L768 592.2"/>
</g>
</g>
<!-- 42_dotted_center.svg -->
<g id="bolt240">
<path class="d3" d="M587.1 559.9L632.4 550.3M589 570.2L633.6 559.3M632.4 550.3L634 555L633.6 559.3"/>
<path class="d3" d="M596 558L599.5 567.5M606 556L609 565M616 553.8L619 562.5M624 552L627 560.6"/>
<path class="d" d="M571 557.5L580.5 553.9L588 559L588.4 576.2L581 581.6L572 578.5L566.5 573"/>
<path class="d3" d="M572 558V578M580.5 554L581 581M574 562L587 571M575 575L587.5 563M577 567.5L584 580"/>
<path class="l" d="M565.6 564.5C566.6 566.4 566.6 568.4 565.6 570M574.4 564V568M588.2 573C587.6 574.4 587.8 575.6 588.6 576.4" style="stroke-width:1.2"/>
</g>
<g id="nut250">
<path class="d3" d="M786 524C786.5 519.5 790.5 516 795 515.8C800 515.8 804 519 804.8 523.5C805.4 528.5 803 533 798.5 535.2C794 536.4 789.5 534.8 787 531.5"/>
<path class="d3" d="M793 522V526M796.5 519L800.5 521M794 526L797 533.5M790 531L795 530M799 523.5H803"/>
<path class="l" d="M785.9 520.4V525.6" style="stroke-width:1.4"/>
</g>
<!-- 46_strap_405_410.svg -->
<g id="strap" class="l">
<path d="M1067.6 495.3C1068.4 493 1069.8 491.6 1071.7 491.2C1073.6 491 1075.4 491.8 1077.1 493.3L1092 504.8M1073.7 496L1090.7 508.9"/>
<path class="w" d="M1093.4 505.5L1110.4 515L1109.7 520.4L1091.4 510.2Z"/>
<path d="M1095 507.4L1094.2 510.4M1106.4 514.2L1105.6 518.2" />
<path class="f" d="M1105.8 513.4L1108.4 514.8L1107.6 519.4L1105 518Z"/>
</g>
<g id="nut410" class="l">
<ellipse class="w" cx="1108.1" cy="557.6" rx="7.8" ry="13.6" transform="rotate(-12 1108.1 557.6)"/>
<path class="w" d="M1094.5 556.2L1097 551.2L1104.1 549.2L1110.1 554.2V565.3L1104.1 570.3L1098 569.3L1094.5 562.2Z"/>
<path d="M1104.1 549.2L1103.1 557.2L1110.1 565.3M1103.1 557.2L1103.6 570"/>
<ellipse cx="1098.2" cy="560" rx="3.3" ry="6.3" transform="rotate(-8 1098.2 560)"/>
<path d="M1099 554.6C1100.6 556 1101.4 558.4 1101.2 561"/>
</g>
<g id="bracket405" class="l">
<path d="M1134.1 492L1138.2 490L1157.2 501.1L1155.2 504.6M1134.1 492V494L1151.2 503.1M1135.6 495.4L1138.2 497.1L1137.2 504.1M1138.2 497.1L1146 494.4M1137.2 504.1L1150.6 500.6"/>
<path class="dd" d="M1137.2 504.1L1133.1 507.1L1134.1 510.1L1139 510.6M1150.6 500.6L1154.6 503.4"/>
<path d="M1139 510.6L1152 507.4L1158.2 514.1L1151 516.4M1143 510.4L1148.4 516M1146 509.4L1152.4 515.4M1148 518L1156 516.4"/>
<path class="dd" d="M1148.4 516L1151 518.4"/>
<path d="M1157.2 501.6L1187.3 520.1M1159.2 505.1L1185.3 521.1M1158.2 514.1L1186.3 532.2M1157.2 501.1L1158.6 504.2"/>
<path d="M1187.3 520.1L1184.3 524.1L1188.3 527.1L1198.3 526.1M1191.3 521.6L1208.4 531.2L1209.9 533.2V546.2L1205.4 549.2L1198.3 548.2L1195.3 544.2"/>
<path d="M1188 521.5L1204.6 530.6L1206.6 533.6V545.4L1204.6 546.6L1199 545.8"/>
<path d="M1184.3 534.2L1185.3 540.2L1197.3 537.2L1197.8 531.2L1184.3 534.2M1197.3 537.2L1206 546M1194.6 538L1203 546.4M1192 524L1201 529"/>
<path class="dd" d="M1197.8 531.2L1206 529.6M1184.3 534.2L1183.6 537.2"/>
</g>
<!-- 50_shield550.svg -->
<g id="shield550" class="l">
<path d="M656.3 427.5L678.6 401.5C682 394 685 386 687.7 377.4L688.2 372.5L691.9 369.6L705.8 366.3L709.4 367L713.6 370L729.3 379.2C731 383 733.6 386.2 736.5 388.3C740.5 390.8 745.5 392 750.4 392.5L751.6 392.2L774.5 405.8L758.9 411.2L755.8 414.2L742.6 435.3L739 439.5L690.7 451.6L656.3 432.3Z"/>
<path d="M656.3 432.3L690.7 451.6L739 439.5" style="stroke-width:1.3"/>
<path d="M656.5 429.6L690.9 449L738.4 437.2"/>
<path d="M740.2 438.6L743.8 434.4L756.8 413.4" />
<path d="M687.7 377.4L697 382.5M691.9 369.6L703 376.5M705.5 366.5L709 367.5"/>
<path d="M696 369L703.5 367.2L707 368L701 369.8Z" style="stroke-width:1.3"/>
<path d="M711.5 380L716 379L729.3 379.2M713.6 370L716 379M708.5 388L711.5 380"/>
<path d="M716 379C716.6 384 718.6 388.5 722 392C726 395.5 730 397.5 735 398.5M708.5 388C710 392.5 713 396.5 717 399.5C721.5 402.3 726.5 403.5 732.5 403.5"/>
<path d="M732.5 403.5L735 398.5L750.4 392.5M732.5 403.5L734.5 404.5L751 398.5M742.6 408.8L755.8 414.4M751.5 401L758.9 411.2"/>
<path d="M759 404L767.5 402.2L770 403.5L762 405.3Z" style="stroke-width:1.3"/>
<!-- slot 1 -->
<path d="M669 419.6C667.6 418 668 415.5 670 413C677 405 684 397 690 388.5C693.5 383.5 697 379 700.5 377.4C704 376 708.5 376 712 377C713.4 377.6 713.6 378.8 712.4 380C709.5 382 706.5 383.5 704 386C699 391.5 694.5 398 690 404C685 410.5 680.5 416 675 419.5C672.6 420.6 670.4 420.6 669 419.6Z"/>
<path d="M670.6 418.2C670 417 670.4 415.6 671.6 414C678.5 406 685.5 398 691.5 389.5C695 384.5 698 381 701.5 379.4C704.5 378.3 707.5 378.2 710.5 378.8"/>
<!-- slot 2 -->
<path d="M689.5 430.5C688.4 428.5 688.6 426.5 690 424.5C692.5 421.5 696 418.5 699 416C701 414 703 413 704 411C706 408 708 405 711 403.2C713.5 402 715.8 402.2 716.6 404C717 405.6 716.4 407.5 715.4 409.4C712.6 414 709.5 418 706 421.6C702 425.5 698.5 429 695 431.4C692.8 432.4 690.6 432 689.5 430.5Z"/>
<path d="M691 429.2C690.4 428 690.6 426.6 691.6 425.4C694 422.4 697.4 419.6 700.2 417.2C702.2 415.4 704 414.2 705.2 412.2C707 409.4 709 406.6 711.6 405C713.2 404.2 714.4 404.2 715 405.2"/>
<!-- slot 3 -->
<path d="M705 440C703.8 438 704.2 436 705.6 434C712 426.5 718.5 419 724.5 411C728 406 732 401.5 736.5 399.5C740 398.2 745.5 397.6 750 398.4C752 399 752.4 400.4 751 401.6C747.5 403 744 404.6 741 407.4C736 413 731.5 419.5 727 425.5C722 432 717 437.6 711.5 440.6C709 441.8 706.2 441.6 705 440Z"/>
<path d="M706.6 438.6C706 437.4 706.4 436 707.4 434.6C713.8 427.2 720.2 419.8 726.2 412C729.6 407.2 733.4 403 737.6 401.2C740.6 400.2 744.6 399.8 748.4 400.2"/>
</g>
<!-- 60_mufflerUR.svg -->
<g id="mufflerUR" class="l">
<path d="M1065.1 413.1L1053.1 407.1C1049.5 404 1047.3 400.5 1046 397.1C1044.4 388 1042.6 379 1040.4 370L1036 350.1C1035.4 346.5 1035.2 343 1035.5 340.1C1036 337 1037.2 334.8 1039 333.1C1041.5 331 1044.5 329.3 1048 328.1L1070.1 323.1L1100.2 318C1108.5 317 1117 316.4 1125.3 316.5C1130.5 316.8 1135.5 317.6 1140.3 318.5L1155.1 319.1L1162.2 320.1C1164.6 321 1166.6 322.4 1168.2 324.1C1170 326 1171.4 328 1172.2 330.1L1174.2 346.2L1178.2 358.2L1186.2 375.3L1189.2 384V389L1186 393.5L1176 399L1128.3 418.6L1122.3 421.1L1086.2 420.1"/>
<path d="M1063.1 405.1L1057.1 402.1C1053.5 399.5 1051.2 396.5 1050 393.1C1048.6 386 1046.6 377 1044.6 368L1040.6 350C1039.6 344 1039.8 340 1041.6 337C1043.4 334.6 1046 333 1049.4 331.8L1071 326L1101 320C1109 318.8 1117 318.2 1125.3 318.4C1130 318.6 1134.5 319.2 1139 320"/>
<path d="M1044.5 352.1C1044.3 349.5 1044.4 347 1045 345.1C1046 342.5 1047.6 340.6 1050.1 339.1L1065.1 334.1L1090.2 328.1L1120.3 323.6L1140.3 319M1048 354.1C1047.8 351 1048.4 348 1049.6 345.6C1050.8 343.4 1052.8 341.8 1055.2 340.6L1070 336L1092.2 331.1L1125.3 325.1L1144 320.6M1044.5 352.1L1046.4 354.6L1048 354.1"/>
<path d="M1040 335.5C1043 335 1046 336 1048.8 337.8"/>
<path d="M1058.1 344.1C1062 346.2 1065 349 1067.1 352.1C1068.4 355 1068.6 358 1068.1 361.2L1064.1 380.2L1058.1 400.1"/>
<path d="M1078.2 331.4C1083.2 335.4 1086.7 343 1088.2 350C1089.6 355 1089.0 360 1089.2 365C1089.8 372 1091.0 379 1092.2 385C1093.7 391 1096.2 410.3 1097.7 416.3M1081.7 330.6C1086.7 334.6 1090.2 343 1091.7 350C1093.1 355 1092.5 360 1092.7 365C1093.3 372 1094.5 379 1095.7 385C1097.2 391 1099.7 410.5 1101.2 416.5M1083.2 330.2C1088.2 334.2 1091.7 343 1093.2 350C1094.6 355 1094.0 360 1094.2 365C1094.8 372 1096.0 379 1097.2 385C1098.7 391 1101.2 410.7 1102.7 416.7M1089.2 328.8C1094.2 332.8 1097.7 343 1099.2 350C1100.6 355 1100.0 360 1100.2 365C1100.8 372 1102.0 379 1103.2 385C1104.7 391 1107.2 411.1 1108.7 417.1M1093.7 328.1C1098.7 332.1 1102.2 343 1103.7 350C1105.1 355 1104.5 360 1104.7 365C1105.3 372 1106.5 379 1107.7 385C1109.2 391 1111.7 411.4 1113.2 417.4M1107.8 325.9C1112.8 329.9 1116.3 343 1117.8 350C1119.2 355 1118.6 360 1118.8 365C1119.4 372 1120.6 379 1121.8 385C1123.3 391 1125.8 410.0 1127.3 416.0M1112.8 325.1C1117.8 329.1 1121.3 343 1122.8 350C1124.2 355 1123.6 360 1123.8 365C1124.4 372 1125.6 379 1126.8 385C1128.3 391 1130.8 408.0 1132.3 414.0M1114.3 324.9C1119.3 328.9 1122.8 343 1124.3 350C1125.7 355 1125.1 360 1125.3 365C1125.9 372 1127.1 379 1128.3 385C1129.8 391 1132.3 407.5 1133.8 413.5M1120.3 324.0C1125.3 328.0 1128.8 343 1130.3 350C1131.7 355 1131.1 360 1131.3 365C1131.9 372 1133.1 379 1134.3 385C1135.8 391 1138.3 405.1 1139.8 411.1M1124.3 323.1C1129.3 327.1 1132.8 343 1134.3 350C1135.7 355 1135.1 360 1135.3 365C1135.9 372 1137.1 379 1138.3 385C1139.8 391 1142.3 403.5 1143.8 409.5M1137.4 320.2C1142.4 324.2 1145.9 343 1147.4 350C1148.8 355 1148.2 360 1148.4 365C1149.0 372 1150.2 379 1151.4 385C1152.9 391 1155.4 398.4 1156.9 404.4M1141.9 319.6C1146.9 323.6 1150.4 343 1151.9 350C1153.3 355 1152.7 360 1152.9 365C1153.5 372 1154.7 379 1155.9 385C1157.4 391 1159.9 396.7 1161.4 402.7M1143.9 319.7C1148.9 323.7 1152.4 343 1153.9 350C1155.3 355 1154.7 360 1154.9 365C1155.5 372 1156.7 379 1157.9 385C1159.4 391 1161.9 395.9 1163.4 401.9M1149.4 319.8C1154.4 323.8 1157.9 343 1159.4 350C1160.8 355 1160.2 360 1160.4 365C1161.0 372 1162.2 379 1163.4 385C1164.9 391 1167.4 393.7 1168.9 399.7M1153.0 319.9C1158.0 323.9 1161.5 343 1163.0 350C1164.4 355 1163.8 360 1164.0 365C1164.6 372 1165.8 379 1167.0 385C1168.5 391 1171.0 392.3 1172.5 398.3"/>
<path d="M1068.0 325.1L1077.0 334.7M1074.0 323.9L1083.0 333.3M1080.0 322.9L1089.0 331.9M1086.0 321.9L1095.0 330.9M1097.0 320.0L1106.0 329.2M1103.0 319.3L1112.0 328.3M1108.0 319.0L1117.0 327.5M1114.0 318.7L1123.0 326.4"/>
<path d="M1170 331L1172.2 346.6L1176.2 358.8L1184 375.6L1186.6 383"/>
<path d="M1087.2 416.1L1122.3 418.6C1124.6 418.2 1126.6 417.4 1128.3 416.1L1168 400.6L1184 393.5M1085.7 436.2L1114.2 421.6"/>
<path d="M1098.2 417.1C1098.6 414 1100.4 411.4 1103.2 410.1C1105.4 409.4 1107.4 409.4 1109.2 410C1110.6 412 1111.2 414.4 1111.2 417.1M1109.2 410C1110.4 408.8 1111.8 408.2 1113.2 408.1C1114.6 410.6 1115.2 413.6 1115.2 417.1"/>
<path class="dd" d="M1063.1 404.1C1065.5 400.5 1070 398.3 1075.1 398.1C1081 398 1086.4 400.4 1089.2 404.1C1090 406 1090 408 1089.6 409.5M1066.1 408.1C1068.6 405.4 1072 404 1075.6 404C1079.6 404 1083.2 405.8 1085.2 409M1067.1 412.1C1069.6 409.6 1072.6 408.4 1076 408.5C1079.4 408.6 1083 410.2 1085.2 413.1"/>
<path d="M1068.1 415.1L1067.1 438.2L1077.1 460M1085.7 417.1V436.2"/>
<path class="dd" d="M1077.1 460C1081 467 1084 473 1083.9 478C1083.5 485 1081 490 1077.1 492.6M1085.7 436.2L1097.5 460C1100 468 1101.2 475 1100.9 480C1100.5 487 1098 494 1092 504.8"/>
<path d="M1065.5 419.5L1067.4 414.5" stroke="#999"/>
<path d="M1184.2 327.1L1211.3 320.6M1178.2 348.2L1217.3 337.1"/>
<path class="dd" d="M1172.6 330.4C1175.6 331.6 1178 334.6 1179 338.6C1179.8 342.4 1179.4 346 1178 348.2M1174 346C1175.6 344 1176.2 341 1175.6 338C1175 335 1173.8 332.6 1172.4 331"/>
<path d="M1211.3 313.1L1214.3 311.6L1231.4 307.1M1221.3 344.2L1240.4 339.1M1211.3 313.1C1211.2 315.6 1211.6 318 1212.3 320.1M1217.3 337.1L1221.3 344.2"/>
<path class="dd" d="M1231.4 307.1C1234.6 309.6 1237.4 313.6 1239.4 318.1C1241.4 322.8 1242.6 327.8 1242.4 332.1C1242.2 335 1241.6 337.4 1240.4 339.1M1214.3 311.6C1217 314.6 1219 318.6 1220.3 323.1C1221.8 328 1222.8 333 1223.3 338.1C1223 340.6 1222.4 342.6 1221.3 344.2M1212.3 320.1C1214.6 323 1216.2 326.4 1217 330C1217.6 332.6 1217.6 335 1217.3 337.1"/>
<path class="dd" d="M1182.2 362.2C1184.6 363 1186.6 365.2 1187.8 368.2C1188.8 371.2 1188.8 374.4 1188 377M1186.2 361.2L1198.3 360.2L1202.3 364.2M1190.4 378.6L1196 385"/>
<path d="M1202.3 364.2L1220 380.6C1224 384.2 1228 386.4 1231 386.8M1196 385L1210 396.4C1214.6 400.6 1219.4 403.4 1224 404.4C1228.4 405 1232 404.6 1235.6 403.6"/>
<g transform="translate(-2.8 1)">
<path d="M1234 377.6L1237 376L1254.4 372.6M1244.6 410L1262 405.4M1234 377.6C1233.8 380.4 1234.2 383.4 1235 386M1239.6 402.6L1244.6 410"/>
<path class="dd" d="M1254.4 372.6C1257.4 375.4 1259.8 379.4 1261.4 384C1263 388.8 1263.6 394 1263.2 398.4C1263 401.2 1262.6 403.6 1262 405.4M1237 376C1239.8 379.4 1242 383.6 1243.4 388.4C1244.8 393.4 1245.6 398.4 1245.6 403.4C1245.4 406 1245.2 408.2 1244.6 410M1235 386C1237.2 388.8 1238.8 392 1239.6 395.6C1240 398 1240 400.4 1239.6 402.6"/>
</g>
<path d="M1157.6 294.2L1175.2 304.5M1175.4 304.4C1176.2 303.6 1177.2 303.6 1178.2 304.2L1182.2 306.6C1185 309 1187.4 311.4 1189.2 314.1C1190 316 1190 317.6 1189.2 319.1C1188 321 1186.4 322.2 1184.2 323.1L1169.2 327.6M1174.8 305.6C1174.4 306.6 1174.8 307.4 1175.6 308L1180.2 309.6C1182.4 311.4 1184 313.2 1185.2 315.1C1185.6 316.4 1185.4 317.4 1184.8 318.4C1183.6 319.6 1182 320.4 1180.2 321.1L1168.2 324.1M1183.6 323.4L1184 326.4L1172 329.6"/>
</g>
<!-- 61_parts350_370.svg -->
<g id="part370" class="l">
<path d="M1052.1 264.8L1053.7 270.2C1056 272 1059 272.9 1062.3 272.9C1065.6 272.9 1068.6 272 1070.8 270.2L1072.4 264.8M1057.5 266.4V271.8M1069.2 266V271.4"/>
<ellipse class="w" cx="1062.3" cy="258.6" rx="13.2" ry="7.6"/>
<ellipse cx="1062.3" cy="257.4" rx="5.2" ry="3.2"/>
</g>
<g id="part350">
<path class="d" d="M1059.6 223.9L1070 222.5L1080.9 223.9L1082 234.5L1076.6 243L1058.5 234.5"/>
<path class="d3" d="M1059.6 224L1066 230L1078 224.5M1062 229L1071 226M1066 236L1072 228M1070 240L1078 230M1080 226L1081 236M1063 233L1069 238"/>
<path class="d3" d="M1082 246.2L1085 244L1090.5 247.3M1083.5 249L1087 246"/>
</g>
<g id="part360">
<path class="d" d="M1094.8 267.5C1094.4 263 1095 259.5 1096.9 256.9C1099.5 253 1103.5 250.8 1107.6 250.5C1112 250.2 1116.5 251 1119.3 252.6C1121.6 254.5 1122.6 257 1122.5 260.1"/>
<path class="d" d="M1099 262C1100 258.5 1103 256 1107 255.4C1111 255 1115 256 1117.5 258M1102 262.5L1107 257.5M1105.5 265L1112.5 256.5M1110 267L1117.5 259M1113 270L1120 262.5M1108 258L1116 267"/>
<path class="d" d="M1104 272C1106 268.5 1110 267 1114 267.5C1119 268.5 1122.5 272.5 1122.8 278C1123 283.5 1120.5 288.5 1116 290.5C1112 292 1107 291 1104 288"/>
<path class="d3" d="M1108 274C1111 272 1115 272.5 1117.5 275.5C1119.5 278.5 1119 283 1116 285.5C1113 287.5 1109.5 286.5 1108 284M1111 277L1115 282M1114.5 276L1110 283"/>
<path class="l" d="M1102.2 269.7V276.1" style="stroke-width:1.1"/>
<path d="M1100.2 277.5V285" stroke="#bbb" stroke-width=".9" fill="none"/>
<path class="l" d="M1127.3 267.6L1157.6 285.7V294.2"/>
</g>
<!-- 70_mufflerLR.svg -->
<g id="mufflerLR" class="l">
<path d="M1081.6 634.6C1080.3 635.5 1075.7 636.9 1073.7 640.0C1071.7 643.1 1071.2 648.8 1069.7 653.3C1068.1 657.7 1065.4 662.2 1064.3 666.6C1063.2 671.1 1063.7 676.4 1063.0 679.9C1062.3 683.5 1060.3 685.7 1060.3 687.9C1060.3 690.2 1061.4 691.9 1063.0 693.3C1064.5 694.6 1067.7 693.7 1069.7 695.9C1071.7 698.1 1072.3 703.3 1075.0 706.6C1077.6 709.9 1082.8 714.0 1085.6 715.9C1088.5 717.8 1088.5 717.7 1092.3 717.9C1096.1 718.1 1103.0 718.7 1108.3 717.2C1113.6 715.8 1117.6 712.1 1124.3 709.2C1130.9 706.4 1140.7 702.8 1148.3 699.9C1155.8 697.0 1163.8 695.3 1169.6 691.9C1175.3 688.6 1179.1 683.3 1182.9 679.9C1186.7 676.6 1189.6 675.1 1192.2 671.9C1194.9 668.8 1197.3 665.9 1198.9 661.3C1200.4 656.6 1201.0 649.5 1201.5 644.0C1202.1 638.4 1202.1 630.6 1202.2 628.0"/>
<path d="M1081.6 634.6C1084.5 633.8 1095.0 630.4 1099.0 629.3C1103.0 628.2 1101.9 629.1 1105.6 628.0C1109.4 626.9 1116.3 624.4 1121.6 622.6C1126.9 620.9 1130.5 619.4 1137.6 617.3C1144.7 615.2 1156.7 611.7 1164.2 610.0C1171.8 608.3 1178.0 607.2 1182.9 607.3C1187.8 607.4 1190.7 609.0 1193.6 610.7C1196.4 612.3 1198.7 614.7 1200.2 617.3C1201.8 620.0 1202.4 625.1 1202.9 626.6"/>
<path d="M1060.3 687.9C1061.7 686.8 1062.5 685.5 1068.3 681.3C1074.1 677.0 1087.2 667.5 1095.0 662.6C1102.7 657.7 1106.1 656.0 1115.0 652.0C1123.8 648.0 1138.3 642.2 1148.3 638.6C1158.3 635.1 1166.0 632.8 1174.9 630.6C1183.8 628.5 1197.1 626.8 1201.5 626.0"/>
<path d="M1063.0 693.3C1064.1 692.1 1064.1 691.1 1069.7 686.6C1075.2 682.0 1088.5 671.2 1096.3 665.9C1104.1 660.7 1107.6 659.0 1116.3 654.9C1124.9 650.8 1138.5 645.0 1148.3 641.4C1158.0 637.9 1166.0 635.5 1174.9 633.4C1183.8 631.3 1197.1 629.6 1201.5 628.8"/>
<path d="M1060.3 687.9C1060.4 688.6 1060.6 691.0 1061.0 691.9C1061.4 692.8 1062.7 693.0 1063.0 693.3"/>
<path d="M1105.6 649.6C1106.7 651.3 1111.4 654.9 1112.3 660.0C1113.2 665.0 1112.7 672.2 1111.0 679.9C1109.2 687.7 1104.7 700.3 1101.6 706.6C1098.5 712.9 1093.9 716.0 1092.3 717.9"/>
<path d="M1129.6 626.6C1126.1 627.9 1114.3 631.8 1108.3 634.0C1102.3 636.2 1096.4 638.2 1093.6 640.0C1090.9 641.7 1091.4 643.3 1091.6 644.6C1091.9 646.0 1092.6 648.1 1095.0 648.0C1097.3 647.9 1099.0 646.4 1105.6 644.0C1112.3 641.5 1130.1 635.1 1134.9 633.3"/>
<path d="M1134.9 647.4C1134.5 651.9 1133.9 664.2 1132.3 674.1C1130.8 683.9 1126.7 701.2 1125.6 706.6"/>
<path d="M1138.3 646.0C1137.8 650.5 1137.2 662.9 1135.7 672.8C1134.1 682.7 1130.1 700.1 1128.9 705.5"/>
<path d="M1142.3 644.4C1141.9 648.8 1141.4 661.2 1140.0 671.2C1138.5 681.1 1134.7 698.5 1133.6 703.9"/>
<path d="M1146.3 642.7C1145.9 647.1 1145.6 659.6 1144.3 669.5C1142.9 679.5 1139.3 696.9 1138.3 702.3"/>
<path d="M1150.3 641.2C1150.0 645.7 1149.8 658.2 1148.6 668.1C1147.3 678.1 1143.9 695.5 1142.9 701.0"/>
<path d="M1163.2 637.4C1162.9 642.0 1162.6 654.8 1161.4 665.0C1160.1 675.3 1156.5 693.2 1155.6 698.9"/>
<path d="M1166.2 636.4C1165.9 641.1 1165.5 654.0 1164.1 664.3C1162.7 674.6 1158.9 692.6 1157.9 698.3"/>
<path d="M1168.5 635.8C1168.2 640.4 1167.8 653.1 1166.5 663.3C1165.2 673.5 1161.5 691.4 1160.5 697.0"/>
<path d="M1172.2 634.6C1172.0 639.2 1171.8 651.7 1170.5 661.7C1169.3 671.8 1165.9 689.3 1164.9 694.9"/>
<path d="M1177.3 633.4C1177.0 637.8 1176.8 650.1 1175.5 660.0C1174.3 669.8 1170.8 687.0 1169.8 692.5"/>
<path d="M1179.6 633.0C1179.3 637.4 1179.1 649.5 1177.9 659.2C1176.6 668.9 1173.2 685.8 1172.2 691.1"/>
<path d="M1190.2 631.2C1190.3 634.6 1191.1 644.1 1190.6 651.8C1190.2 659.4 1188.1 672.8 1187.6 677.0"/>
<path d="M1193.6 630.6C1193.5 633.9 1194.1 643.2 1193.5 650.7C1192.9 658.1 1190.4 671.2 1189.8 675.3"/>
<path d="M1195.7 630.2C1195.7 633.4 1196.3 642.3 1195.7 649.5C1195.2 656.6 1192.8 669.1 1192.2 673.0"/>
<path d="M1199.6 629.5C1199.5 632.2 1200.0 639.7 1199.4 645.6C1198.7 651.6 1196.2 662.0 1195.6 665.3"/>
<path d="M1201.9 629.2C1202.0 631.4 1202.9 637.5 1202.5 642.4C1202.1 647.3 1200.0 655.9 1199.6 658.6"/>
<path d="M1164.2 609.5C1166.6 610.8 1174.8 614.0 1178.3 617.1C1181.8 620.1 1184.1 625.8 1185.3 627.6"/>
<path d="M1170.3 608.5C1172.4 609.9 1180.0 613.5 1183.3 616.5C1186.6 619.6 1188.7 624.9 1189.8 626.6"/>
<path d="M1175.3 608.0C1177.3 609.4 1184.2 613.1 1187.3 616.0C1190.4 619.0 1192.7 624.2 1193.8 625.9"/>
<path d="M1180.3 607.5C1182.3 608.8 1189.4 612.1 1192.3 615.0C1195.2 618.0 1196.9 623.4 1197.8 625.1"/>
<path d="M1185.3 608.0C1187.1 609.2 1193.7 612.3 1196.3 615.0C1198.9 617.8 1200.1 623.0 1200.8 624.6"/>
<path d="M1106.6 627.1C1108.0 628.1 1112.5 631.5 1115.1 633.1C1117.7 634.7 1119.4 635.0 1122.1 636.6C1124.8 638.2 1129.6 641.6 1131.1 642.6"/>
<path d="M1115.1 625.1C1116.4 626.1 1120.8 629.3 1123.1 631.1C1125.5 632.9 1127.1 634.4 1129.1 636.1C1131.1 637.8 1134.1 640.5 1135.2 641.3"/>
<path d="M1118.1 624.1C1119.6 625.1 1124.8 628.3 1127.1 630.1C1129.5 631.9 1130.1 633.5 1132.1 635.1C1134.1 636.7 1138.0 639.1 1139.2 639.9"/>
<path d="M1137.2 618.1C1138.5 619.1 1142.2 622.1 1145.2 624.1C1148.2 626.1 1152.4 628.5 1155.2 630.1C1158.1 631.7 1161.1 633.0 1162.2 633.6"/>
<path d="M1141.2 616.9C1142.5 617.8 1146.4 620.5 1149.2 622.6C1152.0 624.6 1155.5 627.4 1158.2 629.1C1160.9 630.8 1164.1 632.0 1165.2 632.6"/>
<path d="M1149.2 614.5C1150.5 615.8 1155.2 619.6 1157.2 622.1C1159.2 624.5 1159.4 627.5 1161.2 629.1C1163.1 630.7 1167.1 631.2 1168.2 631.6"/>
<path d="M1163.2 610.0C1164.1 611.5 1166.2 616.9 1168.2 619.1C1170.3 621.2 1173.1 621.6 1175.3 623.1C1177.4 624.6 1180.3 627.2 1181.3 628.1"/>
<path d="M1095.0 641.1C1097.0 640.2 1105.1 636.5 1107.1 635.6"/>
<path d="M1108.1 633.1C1110.6 632.3 1118.3 629.7 1123.1 628.1C1128.0 626.5 1134.8 624.3 1137.2 623.6"/>
<path d="M1103.1 647.1C1105.6 646.1 1113.8 642.7 1118.1 641.1C1122.4 639.5 1127.3 638.2 1129.1 637.6"/>
<path d="M1129.1 630.1C1131.1 629.4 1137.8 627.2 1141.2 626.1C1144.5 625.0 1147.9 624.0 1149.2 623.6"/>
<path d="M1133.1 635.1C1135.2 634.4 1141.5 631.8 1145.2 630.6C1148.9 629.3 1153.5 628.1 1155.2 627.6"/>
<path d="M1155.2 621.6C1156.9 621.0 1162.6 618.8 1165.2 618.1C1167.9 617.3 1169.1 616.9 1171.3 617.1C1173.4 617.2 1177.6 617.9 1178.3 619.1C1178.9 620.2 1176.4 623.1 1175.3 624.1C1174.1 625.1 1171.9 624.9 1171.3 625.1"/>
<path d="M1159.2 627.1C1160.6 626.7 1165.1 625.8 1167.2 625.1C1169.4 624.3 1171.4 623.0 1172.3 622.6"/>
<path d="M1102.1 647.1C1102.6 648.0 1103.9 651.0 1105.1 652.2C1106.2 653.3 1108.4 653.8 1109.1 654.2"/>
</g>
<!-- 71_tailpipesLR.svg -->
<g id="tailLR" class="l">
<!-- upper S pipe -->
<path class="dd" d="M1201.3 612L1204 602.6L1208 586.6C1209 582.6 1210.4 579 1212 576"/>
<path d="M1212 576C1214 572.6 1216.6 570.2 1220 568.7" stroke="#aaa"/>
<path d="M1220 568.7L1229.3 566"/>
<path class="dd" d="M1218.6 617.3L1222.6 602.6L1226 589.3"/>
<path d="M1226 589.3C1227.6 586.6 1230 584.4 1233.3 582.6M1218.6 617.3C1217 620.6 1214.6 623 1211.6 624.4"/>
<path class="dd" d="M1200.6 613.4C1203.4 614.4 1205 617.4 1205 621C1205 623.6 1204.4 625.6 1203.4 627M1201.6 617C1202.6 619 1202.8 622 1202 624.6"/>
<path d="M1230.6 556.7L1248 552M1238.6 589.3L1257.3 583.3M1228.6 562C1228.6 559.6 1229.2 557.8 1230.6 556.7M1233.3 582.6L1234 582.6L1238.6 589.3"/>
<path class="dd" d="M1248 552C1251 555 1253.2 558.6 1254.6 562.7C1256.6 566.6 1257.6 570.6 1258 574.6C1258.2 578 1258 581 1257.3 583.3M1230.6 556.7C1233 559.6 1234.8 563 1236 566.7C1237.8 570.6 1238.8 574.6 1239.3 578.6C1239.6 582.6 1239.4 586.2 1238.6 589.3M1228.6 562C1230.8 564.2 1232.4 566.8 1233.3 570C1234.2 574 1234.4 578.2 1234 582.6"/>
<!-- lower straight pipe -->
<path d="M1202.7 643.3L1237.3 634M1200 662L1242.6 651.3"/>
<path d="M1238.6 625.3L1257.3 620.6M1246.6 657.3L1265.3 652M1236.6 630.6C1236.6 628.4 1237.2 626.6 1238.6 625.3M1242.6 651.3L1246.6 657.3"/>
<path class="dd" d="M1257.3 620.6C1260.4 624.2 1262.6 628.6 1264 633.3C1265.6 637.6 1266.6 642.2 1266.6 646.6C1266.6 648.6 1266.2 650.4 1265.3 652M1238.6 625.3C1241.6 628.8 1243.8 632.8 1245.3 637.3C1247 641.4 1248.2 645.4 1248.6 649.3C1248.6 652.4 1248 655 1246.6 657.3M1236.6 630.6C1239.2 633.8 1241 637.2 1242 641.3C1242.8 644.6 1243 648 1242.6 651.3"/>
<!-- wire -->
<path d="M1202.7 628L1210.6 625.3C1213.4 624.2 1216 623.8 1218.6 624L1222.6 625.3M1202.7 636L1209.3 634.6C1211.4 633.2 1213 631.2 1214.6 629.3C1216.4 628.2 1218.6 627.8 1221.3 628"/>
<path d="M1223 626.2L1234.4 632" style="stroke-width:2.4"/>
<path d="M1223.6 626.5L1233.8 631.7" style="stroke:#fff;stroke-width:.9;stroke-dasharray:1.5 1"/>
</g>
<g id="pipe210" class="l">
<path d="M777 706.4C774.6 706.6 772.8 710.6 772.4 716C772 722 772.8 726.8 774 728.2L780 728.8"/>
<path d="M777.0 706.4C778.7 707.0 782.7 709.0 787.0 710.0C791.3 711.0 797.5 711.9 803.0 712.2C808.5 712.5 813.8 713.0 820.0 712.0C826.2 711.0 833.3 708.5 840.0 706.0C846.7 703.5 853.3 700.0 860.0 697.0C866.7 694.0 873.3 690.5 880.0 688.0C886.7 685.5 892.7 684.0 900.0 682.0C907.3 680.0 915.7 677.8 924.0 676.0C932.3 674.2 942.3 672.0 950.0 671.2C957.7 670.4 962.5 670.7 970.0 671.2C977.5 671.7 986.7 673.0 995.0 674.0C1003.3 675.0 1008.8 675.9 1020.0 677.0C1031.2 678.1 1055.0 680.0 1062.0 680.6"/>
<path d="M774.0 728.2C775.0 728.3 776.5 728.4 780.0 728.8C783.5 729.2 790.0 730.2 795.0 730.6C800.0 731.0 805.0 731.2 810.0 731.0C815.0 730.8 820.0 730.4 825.0 729.6C830.0 728.8 834.2 728.2 840.0 726.0C845.8 723.8 853.3 719.7 860.0 716.5C866.7 713.3 873.3 709.8 880.0 707.0C886.7 704.2 893.3 702.3 900.0 700.0C906.7 697.7 913.3 694.9 920.0 693.4C926.7 691.9 933.3 691.7 940.0 691.0C946.7 690.3 953.3 688.9 960.0 689.0C966.7 689.1 973.3 690.6 980.0 691.4C986.7 692.2 990.0 693.1 1000.0 694.0C1010.0 694.9 1028.3 696.3 1040.0 697.0C1051.7 697.7 1065.0 697.8 1070.0 698.0"/>
<path d="M782.4 708.4C780.4 711.4 779.4 715 779.2 719C779 723 779.6 726.4 780.8 728.8M785.4 709.4C783.4 712.4 782.4 716 782.2 720C782 723.6 782.6 726.8 783.8 729.4"/>
<!-- hanger -->
<path class="w" d="M878.2 655.6L881 654.6L896 666L895.4 669L892.6 669.6L878.6 660.4Z"/>
<path d="M881 654.6L880.8 658.4L892.6 666.6L892.6 669.6M880.8 658.4L878.6 660.4M884.6 658.6L884.2 662.2M883.2 660.6L886.6 663"/>
<path d="M896 666.4C902 669 907.6 671.6 912 675C915.6 678 918.4 682 920 686L922 691M893.6 669.2C900 671.8 905.6 674.6 909.6 678C913 681 915.6 684.6 917.2 688.4L918.4 691.2"/>
<path d="M918.4 691.2L922 691"/>
</g>
<g id="part290">
<path class="d3" d="M1023 564C1025.5 560.5 1030 559 1034 560.5C1036.5 562 1037.6 564.5 1037 567.5M1024 566L1031 569M1028 563L1033 568.5M1019 570L1024 575.5M1018 574L1020.5 576M1036.5 572V578M1024 576L1024.5 580M1028.5 577L1031 579.5"/>
<path class="d" d="M1021 582.5L1027.5 581L1033.5 579.5L1038 580M1025 585L1029 580M1028.5 586L1033 581M1032 586.5L1037 581"/>
<path class="d3" d="M1018.5 584L1023 586.5M1028 589L1034 593.5M1039 583L1040 590"/>
<path class="l" d="M1031.4 587.4L1033.6 589.6L1034.3 594.6M1033 573L1034 571.2" style="stroke-width:1.2"/>
</g>
<g id="labels">
<g transform="translate(194.7 195.2)"><text class="t" x="0" y="17">450</text>
<g transform="translate(0 0)"><path d="M8.7 2.57V15.43M1.6 11.31H10.8" class="gk"/><path d="M8.7 2.57V15.43M1.6 11.31H10.8" class="gw"/><path d="M8.2 2.08L0.9 11.01" class="gn"/></g>
<g transform="translate(15 0)"><path d="M6.6 8.37C7.9 9.2 8.5 10.65 8.5 12.2C8.5 13.97 7.8 15.21 6.6 15.94" class="gk"/><path d="M6.6 8.37C7.9 9.2 8.5 10.65 8.5 12.2C8.5 13.97 7.8 15.21 6.6 15.94" class="gw"/><path d="M1 1.42H8.6V2.75M1.7 1.42V8.52M1.6 8.74C2.6 7.86 3.8 7.41 5 7.52C5.6 7.63 6.2 7.86 6.6 8.29M6.6 16.4C5.4 17.07 3.8 17.07 2.8 16.73C1.8 16.29 1.2 15.63 0.9 14.73" class="gn"/></g>
<g transform="translate(27.8 0)"><ellipse cx="5.8" cy="8.9" rx="5.45" ry="8.55" class="go"/><ellipse cx="5.8" cy="8.9" rx="3.15" ry="7.25" class="go"/></g>
</g>
<g transform="translate(344.8 152.2)"><text class="t" x="0" y="17">520</text>
<g transform="translate(0 0)"><path d="M6.6 8.37C7.9 9.2 8.5 10.65 8.5 12.2C8.5 13.97 7.8 15.21 6.6 15.94" class="gk"/><path d="M6.6 8.37C7.9 9.2 8.5 10.65 8.5 12.2C8.5 13.97 7.8 15.21 6.6 15.94" class="gw"/><path d="M1 1.42H8.6V2.75M1.7 1.42V8.52M1.6 8.74C2.6 7.86 3.8 7.41 5 7.52C5.6 7.63 6.2 7.86 6.6 8.29M6.6 16.4C5.4 17.07 3.8 17.07 2.8 16.73C1.8 16.29 1.2 15.63 0.9 14.73" class="gn"/></g>
<g transform="translate(12.8 0)"><path d="M8.5 3.01C9.2 3.94 9.4 4.98 9.2 6.01C8.9 7.67 7.6 9.13 5.6 11.2L1.6 15.14" class="gk"/><path d="M8.5 3.01C9.2 3.94 9.4 4.98 9.2 6.01C8.9 7.67 7.6 9.13 5.6 11.2L1.6 15.14" class="gw"/><path d="M1 3.52C1.4 1.85 2.6 0.85 4.6 0.74C6.4 0.74 7.7 1.41 8.5 2.62M1.8 16.5H10.2" class="gn"/></g>
<g transform="translate(26.7 0)"><ellipse cx="5.8" cy="8.9" rx="5.45" ry="8.55" class="go"/><ellipse cx="5.8" cy="8.9" rx="3.15" ry="7.25" class="go"/></g>
</g>
<g transform="translate(278.7 225.7)"><text class="t" x="0" y="17">900</text>
<g transform="translate(0 0)"><g transform="rotate(180 5.65 8.9)"><path d="M3.4 2.84C2.2 4.37 1.6 6.55 1.5 9.39C1.5 12.01 2 13.98 3 15.18M7.6 7.86C9 8.74 9.7 10.05 9.7 11.68C9.7 13.32 9 14.63 7.8 15.51" class="gk"/><path d="M3.4 2.84C2.2 4.37 1.6 6.55 1.5 9.39C1.5 12.01 2 13.98 3 15.18M7.6 7.86C9 8.74 9.7 10.05 9.7 11.68C9.7 13.32 9 14.63 7.8 15.51" class="gw"/><path d="M8.8 3.11C8.2 1.71 7 0.9 5.6 1.02C4.8 1.14 4 1.59 3.4 2.41M3 15.62C3.8 16.55 4.6 16.9 5.6 16.9C6.4 16.9 7.2 16.55 7.8 15.97M1.7 10.59C2.4 8.5 3.8 7.21 5.6 7.21C6.4 7.21 7 7.44 7.6 7.79" class="gn"/></g></g>
<g transform="translate(14.3 0)"><ellipse cx="5.8" cy="8.9" rx="5.45" ry="8.55" class="go"/><ellipse cx="5.8" cy="8.9" rx="3.15" ry="7.25" class="go"/></g>
<g transform="translate(28.9 0)"><ellipse cx="5.8" cy="8.9" rx="5.45" ry="8.55" class="go"/><ellipse cx="5.8" cy="8.9" rx="3.15" ry="7.25" class="go"/></g>
</g>
<g transform="translate(321.3 236.7)"><text class="t" x="0" y="17">950</text>
<g transform="translate(0 0)"><g transform="rotate(180 5.65 8.9)"><path d="M3.4 2.84C2.2 4.37 1.6 6.55 1.5 9.39C1.5 12.01 2 13.98 3 15.18M7.6 7.86C9 8.74 9.7 10.05 9.7 11.68C9.7 13.32 9 14.63 7.8 15.51" class="gk"/><path d="M3.4 2.84C2.2 4.37 1.6 6.55 1.5 9.39C1.5 12.01 2 13.98 3 15.18M7.6 7.86C9 8.74 9.7 10.05 9.7 11.68C9.7 13.32 9 14.63 7.8 15.51" class="gw"/><path d="M8.8 3.11C8.2 1.71 7 0.9 5.6 1.02C4.8 1.14 4 1.59 3.4 2.41M3 15.62C3.8 16.55 4.6 16.9 5.6 16.9C6.4 16.9 7.2 16.55 7.8 15.97M1.7 10.59C2.4 8.5 3.8 7.21 5.6 7.21C6.4 7.21 7 7.44 7.6 7.79" class="gn"/></g></g>
<g transform="translate(14.3 0)"><path d="M6.6 8.37C7.9 9.2 8.5 10.65 8.5 12.2C8.5 13.97 7.8 15.21 6.6 15.94" class="gk"/><path d="M6.6 8.37C7.9 9.2 8.5 10.65 8.5 12.2C8.5 13.97 7.8 15.21 6.6 15.94" class="gw"/><path d="M1 1.42H8.6V2.75M1.7 1.42V8.52M1.6 8.74C2.6 7.86 3.8 7.41 5 7.52C5.6 7.63 6.2 7.86 6.6 8.29M6.6 16.4C5.4 17.07 3.8 17.07 2.8 16.73C1.8 16.29 1.2 15.63 0.9 14.73" class="gn"/></g>
<g transform="translate(27.1 0)"><ellipse cx="5.8" cy="8.9" rx="5.45" ry="8.55" class="go"/><ellipse cx="5.8" cy="8.9" rx="3.15" ry="7.25" class="go"/></g>
</g>
<g transform="translate(472.4 205.2)"><text class="t" x="0" y="17">500</text>
<g transform="translate(0 0)"><path d="M6.6 8.37C7.9 9.2 8.5 10.65 8.5 12.2C8.5 13.97 7.8 15.21 6.6 15.94" class="gk"/><path d="M6.6 8.37C7.9 9.2 8.5 10.65 8.5 12.2C8.5 13.97 7.8 15.21 6.6 15.94" class="gw"/><path d="M1 1.42H8.6V2.75M1.7 1.42V8.52M1.6 8.74C2.6 7.86 3.8 7.41 5 7.52C5.6 7.63 6.2 7.86 6.6 8.29M6.6 16.4C5.4 17.07 3.8 17.07 2.8 16.73C1.8 16.29 1.2 15.63 0.9 14.73" class="gn"/></g>
<g transform="translate(12.8 0)"><ellipse cx="5.8" cy="8.9" rx="5.45" ry="8.55" class="go"/><ellipse cx="5.8" cy="8.9" rx="3.15" ry="7.25" class="go"/></g>
<g transform="translate(27.4 0)"><ellipse cx="5.8" cy="8.9" rx="5.45" ry="8.55" class="go"/><ellipse cx="5.8" cy="8.9" rx="3.15" ry="7.25" class="go"/></g>
</g>
<g transform="translate(287.3 434.2)"><text class="t" x="0" y="17">25</text>
<g transform="translate(0 0)"><path d="M8.5 3.01C9.2 3.94 9.4 4.98 9.2 6.01C8.9 7.67 7.6 9.13 5.6 11.2L1.6 15.14" class="gk"/><path d="M8.5 3.01C9.2 3.94 9.4 4.98 9.2 6.01C8.9 7.67 7.6 9.13 5.6 11.2L1.6 15.14" class="gw"/><path d="M1 3.52C1.4 1.85 2.6 0.85 4.6 0.74C6.4 0.74 7.7 1.41 8.5 2.62M1.8 16.5H10.2" class="gn"/></g>
<g transform="translate(13.9 0)"><path d="M6.6 8.37C7.9 9.2 8.5 10.65 8.5 12.2C8.5 13.97 7.8 15.21 6.6 15.94" class="gk"/><path d="M6.6 8.37C7.9 9.2 8.5 10.65 8.5 12.2C8.5 13.97 7.8 15.21 6.6 15.94" class="gw"/><path d="M1 1.42H8.6V2.75M1.7 1.42V8.52M1.6 8.74C2.6 7.86 3.8 7.41 5 7.52C5.6 7.63 6.2 7.86 6.6 8.29M6.6 16.4C5.4 17.07 3.8 17.07 2.8 16.73C1.8 16.29 1.2 15.63 0.9 14.73" class="gn"/></g>
</g>
<g transform="translate(408.7 412.2)"><text class="t" x="0" y="17">230</text>
<g transform="translate(0 0)"><path d="M8.5 3.01C9.2 3.94 9.4 4.98 9.2 6.01C8.9 7.67 7.6 9.13 5.6 11.2L1.6 15.14" class="gk"/><path d="M8.5 3.01C9.2 3.94 9.4 4.98 9.2 6.01C8.9 7.67 7.6 9.13 5.6 11.2L1.6 15.14" class="gw"/><path d="M1 3.52C1.4 1.85 2.6 0.85 4.6 0.74C6.4 0.74 7.7 1.41 8.5 2.62M1.8 16.5H10.2" class="gn"/></g>
<g transform="translate(13.9 0)"><path d="M7.8 3.06C8.4 4.15 8.4 5.46 7.8 6.55C7.2 7.53 6.2 8.08 4.8 8.19C6.8 8.3 8.4 9.83 8.6 12.01C8.7 13.76 8 15.07 6.8 15.83" class="gk"/><path d="M7.8 3.06C8.4 4.15 8.4 5.46 7.8 6.55C7.2 7.53 6.2 8.08 4.8 8.19C6.8 8.3 8.4 9.83 8.6 12.01C8.7 13.76 8 15.07 6.8 15.83" class="gw"/><path d="M1 3C1.6 1.49 2.8 0.78 4.6 0.78C6.2 0.78 7.2 1.49 7.8 2.65M6.8 16.33C5.6 17.02 4 17.13 2.8 16.67C1.8 16.21 1 15.27 0.7 14.1M3 8.15H5" class="gn"/></g>
<g transform="translate(26.8 0)"><ellipse cx="5.8" cy="8.9" rx="5.45" ry="8.55" class="go"/><ellipse cx="5.8" cy="8.9" rx="3.15" ry="7.25" class="go"/></g>
</g>
<g transform="translate(385.7 500.2)"><text class="t" x="0" y="17">140</text>
<g transform="translate(0 0)"><path d="M4.7 2.57V15.34" class="gk"/><path d="M4.7 2.57V15.34" class="gw"/><path d="M1 3.85L4.2 1.98M0.7 16.22H3.6M5.8 16.22H8.6" class="gn"/></g>
<g transform="translate(12.2 0)"><path d="M8.7 2.57V15.43M1.6 11.31H10.8" class="gk"/><path d="M8.7 2.57V15.43M1.6 11.31H10.8" class="gw"/><path d="M8.2 2.08L0.9 11.01" class="gn"/></g>
<g transform="translate(27.2 0)"><ellipse cx="5.8" cy="8.9" rx="5.45" ry="8.55" class="go"/><ellipse cx="5.8" cy="8.9" rx="3.15" ry="7.25" class="go"/></g>
</g>
<g transform="translate(390.7 544.2)"><text class="t" x="0" y="17">150</text>
<g transform="translate(0 0)"><path d="M4.7 2.57V15.34" class="gk"/><path d="M4.7 2.57V15.34" class="gw"/><path d="M1 3.85L4.2 1.98M0.7 16.22H3.6M5.8 16.22H8.6" class="gn"/></g>
<g transform="translate(12.2 0)"><path d="M6.6 8.37C7.9 9.2 8.5 10.65 8.5 12.2C8.5 13.97 7.8 15.21 6.6 15.94" class="gk"/><path d="M6.6 8.37C7.9 9.2 8.5 10.65 8.5 12.2C8.5 13.97 7.8 15.21 6.6 15.94" class="gw"/><path d="M1 1.42H8.6V2.75M1.7 1.42V8.52M1.6 8.74C2.6 7.86 3.8 7.41 5 7.52C5.6 7.63 6.2 7.86 6.6 8.29M6.6 16.4C5.4 17.07 3.8 17.07 2.8 16.73C1.8 16.29 1.2 15.63 0.9 14.73" class="gn"/></g>
<g transform="translate(25 0)"><ellipse cx="5.8" cy="8.9" rx="5.45" ry="8.55" class="go"/><ellipse cx="5.8" cy="8.9" rx="3.15" ry="7.25" class="go"/></g>
</g>
<g transform="translate(376.7 574.2)"><text class="t" x="0" y="17">170</text>
<g transform="translate(0 0)"><path d="M4.7 2.57V15.34" class="gk"/><path d="M4.7 2.57V15.34" class="gw"/><path d="M1 3.85L4.2 1.98M0.7 16.22H3.6M5.8 16.22H8.6" class="gn"/></g>
<g transform="translate(12.2 0)"><path d="M9.6 2.47L3.4 15.83" class="gk"/><path d="M9.6 2.47L3.4 15.83" class="gw"/><path d="M0.8 1.88H10.2" class="gn"/></g>
<g transform="translate(26.1 0)"><ellipse cx="5.8" cy="8.9" rx="5.45" ry="8.55" class="go"/><ellipse cx="5.8" cy="8.9" rx="3.15" ry="7.25" class="go"/></g>
</g>
<g transform="translate(295.5 559)"><text class="t" x="0" y="17">145</text>
<g transform="translate(0 0)"><path d="M4.7 2.57V15.34" class="gk"/><path d="M4.7 2.57V15.34" class="gw"/><path d="M1 3.85L4.2 1.98M0.7 16.22H3.6M5.8 16.22H8.6" class="gn"/></g>
<g transform="translate(12.2 0)"><path d="M8.7 2.57V15.43M1.6 11.31H10.8" class="gk"/><path d="M8.7 2.57V15.43M1.6 11.31H10.8" class="gw"/><path d="M8.2 2.08L0.9 11.01" class="gn"/></g>
<g transform="translate(27.2 0)"><path d="M6.6 8.37C7.9 9.2 8.5 10.65 8.5 12.2C8.5 13.97 7.8 15.21 6.6 15.94" class="gk"/><path d="M6.6 8.37C7.9 9.2 8.5 10.65 8.5 12.2C8.5 13.97 7.8 15.21 6.6 15.94" class="gw"/><path d="M1 1.42H8.6V2.75M1.7 1.42V8.52M1.6 8.74C2.6 7.86 3.8 7.41 5 7.52C5.6 7.63 6.2 7.86 6.6 8.29M6.6 16.4C5.4 17.07 3.8 17.07 2.8 16.73C1.8 16.29 1.2 15.63 0.9 14.73" class="gn"/></g>
</g>
<g transform="translate(204.7 614.2)"><text class="t" x="0" y="17">100</text>
<g transform="translate(0 0)"><path d="M4.7 2.57V15.34" class="gk"/><path d="M4.7 2.57V15.34" class="gw"/><path d="M1 3.85L4.2 1.98M0.7 16.22H3.6M5.8 16.22H8.6" class="gn"/></g>
<g transform="translate(12.2 0)"><ellipse cx="5.8" cy="8.9" rx="5.45" ry="8.55" class="go"/><ellipse cx="5.8" cy="8.9" rx="3.15" ry="7.25" class="go"/></g>
<g transform="translate(26.8 0)"><ellipse cx="5.8" cy="8.9" rx="5.45" ry="8.55" class="go"/><ellipse cx="5.8" cy="8.9" rx="3.15" ry="7.25" class="go"/></g>
</g>
<g transform="translate(369.7 620.2)"><text class="t" x="0" y="17">80</text>
<g transform="translate(0 0)"><path d="M2.6 2.84C2 3.71 1.9 4.8 2.2 5.9C2.6 6.99 3.4 7.64 4.4 8.08M7.7 2.84C8.3 3.71 8.4 4.8 8.1 5.9C7.7 6.99 6.9 7.64 5.9 8.08M4.4 8.3C2.8 8.95 1.6 10.26 1.4 12.01C1.3 13.54 1.9 14.85 3 15.62M5.9 8.3C7.5 8.95 8.7 10.26 8.9 12.01C9 13.54 8.4 14.85 7.3 15.62" class="gk"/><path d="M2.6 2.84C2 3.71 1.9 4.8 2.2 5.9C2.6 6.99 3.4 7.64 4.4 8.08M7.7 2.84C8.3 3.71 8.4 4.8 8.1 5.9C7.7 6.99 6.9 7.64 5.9 8.08M4.4 8.3C2.8 8.95 1.6 10.26 1.4 12.01C1.3 13.54 1.9 14.85 3 15.62M5.9 8.3C7.5 8.95 8.7 10.26 8.9 12.01C9 13.54 8.4 14.85 7.3 15.62" class="gw"/><path d="M2.6 2.41C3.2 1.49 4.1 1.02 5.15 1.02C6.2 1.02 7.1 1.49 7.7 2.41M3 16.09C3.6 16.67 4.4 16.9 5.15 16.9C5.9 16.9 6.7 16.67 7.3 16.09M4.2 8.15H6.1" class="gn"/></g>
<g transform="translate(13.3 0)"><ellipse cx="5.8" cy="8.9" rx="5.45" ry="8.55" class="go"/><ellipse cx="5.8" cy="8.9" rx="3.15" ry="7.25" class="go"/></g>
</g>
<g transform="translate(266.7 671.2)"><text class="t" x="0" y="17">190</text>
<g transform="translate(0 0)"><path d="M4.7 2.57V15.34" class="gk"/><path d="M4.7 2.57V15.34" class="gw"/><path d="M1 3.85L4.2 1.98M0.7 16.22H3.6M5.8 16.22H8.6" class="gn"/></g>
<g transform="translate(12.2 0)"><g transform="rotate(180 5.65 8.9)"><path d="M3.4 2.84C2.2 4.37 1.6 6.55 1.5 9.39C1.5 12.01 2 13.98 3 15.18M7.6 7.86C9 8.74 9.7 10.05 9.7 11.68C9.7 13.32 9 14.63 7.8 15.51" class="gk"/><path d="M3.4 2.84C2.2 4.37 1.6 6.55 1.5 9.39C1.5 12.01 2 13.98 3 15.18M7.6 7.86C9 8.74 9.7 10.05 9.7 11.68C9.7 13.32 9 14.63 7.8 15.51" class="gw"/><path d="M8.8 3.11C8.2 1.71 7 0.9 5.6 1.02C4.8 1.14 4 1.59 3.4 2.41M3 15.62C3.8 16.55 4.6 16.9 5.6 16.9C6.4 16.9 7.2 16.55 7.8 15.97M1.7 10.59C2.4 8.5 3.8 7.21 5.6 7.21C6.4 7.21 7 7.44 7.6 7.79" class="gn"/></g></g>
<g transform="translate(26.5 0)"><ellipse cx="5.8" cy="8.9" rx="5.45" ry="8.55" class="go"/><ellipse cx="5.8" cy="8.9" rx="3.15" ry="7.25" class="go"/></g>
</g>
<g transform="translate(402.7 694.2)"><text class="t" x="0" y="17">160</text>
<g transform="translate(0 0)"><path d="M4.7 2.57V15.34" class="gk"/><path d="M4.7 2.57V15.34" class="gw"/><path d="M1 3.85L4.2 1.98M0.7 16.22H3.6M5.8 16.22H8.6" class="gn"/></g>
<g transform="translate(12.2 0)"><path d="M3.4 2.84C2.2 4.37 1.6 6.55 1.5 9.39C1.5 12.01 2 13.98 3 15.18M7.6 7.86C9 8.74 9.7 10.05 9.7 11.68C9.7 13.32 9 14.63 7.8 15.51" class="gk"/><path d="M3.4 2.84C2.2 4.37 1.6 6.55 1.5 9.39C1.5 12.01 2 13.98 3 15.18M7.6 7.86C9 8.74 9.7 10.05 9.7 11.68C9.7 13.32 9 14.63 7.8 15.51" class="gw"/><path d="M8.8 3.11C8.2 1.71 7 0.9 5.6 1.02C4.8 1.14 4 1.59 3.4 2.41M3 15.62C3.8 16.55 4.6 16.9 5.6 16.9C6.4 16.9 7.2 16.55 7.8 15.97M1.7 10.59C2.4 8.5 3.8 7.21 5.6 7.21C6.4 7.21 7 7.44 7.6 7.79" class="gn"/></g>
<g transform="translate(26.5 0)"><ellipse cx="5.8" cy="8.9" rx="5.45" ry="8.55" class="go"/><ellipse cx="5.8" cy="8.9" rx="3.15" ry="7.25" class="go"/></g>
</g>
<g transform="translate(469.1 765.2)"><text class="t" x="0" y="17">30</text>
<g transform="translate(0 0)"><path d="M7.8 3.06C8.4 4.15 8.4 5.46 7.8 6.55C7.2 7.53 6.2 8.08 4.8 8.19C6.8 8.3 8.4 9.83 8.6 12.01C8.7 13.76 8 15.07 6.8 15.83" class="gk"/><path d="M7.8 3.06C8.4 4.15 8.4 5.46 7.8 6.55C7.2 7.53 6.2 8.08 4.8 8.19C6.8 8.3 8.4 9.83 8.6 12.01C8.7 13.76 8 15.07 6.8 15.83" class="gw"/><path d="M1 3C1.6 1.49 2.8 0.78 4.6 0.78C6.2 0.78 7.2 1.49 7.8 2.65M6.8 16.33C5.6 17.02 4 17.13 2.8 16.67C1.8 16.21 1 15.27 0.7 14.1M3 8.15H5" class="gn"/></g>
<g transform="translate(12.9 0)"><ellipse cx="5.8" cy="8.9" rx="5.45" ry="8.55" class="go"/><ellipse cx="5.8" cy="8.9" rx="3.15" ry="7.25" class="go"/></g>
</g>
<g transform="translate(279.2 799.2)"><text class="t" x="0" y="17">50</text>
<g transform="translate(0 0)"><path d="M6.6 8.37C7.9 9.2 8.5 10.65 8.5 12.2C8.5 13.97 7.8 15.21 6.6 15.94" class="gk"/><path d="M6.6 8.37C7.9 9.2 8.5 10.65 8.5 12.2C8.5 13.97 7.8 15.21 6.6 15.94" class="gw"/><path d="M1 1.42H8.6V2.75M1.7 1.42V8.52M1.6 8.74C2.6 7.86 3.8 7.41 5 7.52C5.6 7.63 6.2 7.86 6.6 8.29M6.6 16.4C5.4 17.07 3.8 17.07 2.8 16.73C1.8 16.29 1.2 15.63 0.9 14.73" class="gn"/></g>
<g transform="translate(12.8 0)"><ellipse cx="5.8" cy="8.9" rx="5.45" ry="8.55" class="go"/><ellipse cx="5.8" cy="8.9" rx="3.15" ry="7.25" class="go"/></g>
</g>
<g transform="translate(585.3 528.2)"><text class="t" x="0" y="17">240</text>
<g transform="translate(0 0)"><path d="M8.5 3.01C9.2 3.94 9.4 4.98 9.2 6.01C8.9 7.67 7.6 9.13 5.6 11.2L1.6 15.14" class="gk"/><path d="M8.5 3.01C9.2 3.94 9.4 4.98 9.2 6.01C8.9 7.67 7.6 9.13 5.6 11.2L1.6 15.14" class="gw"/><path d="M1 3.52C1.4 1.85 2.6 0.85 4.6 0.74C6.4 0.74 7.7 1.41 8.5 2.62M1.8 16.5H10.2" class="gn"/></g>
<g transform="translate(13.9 0)"><path d="M8.7 2.57V15.43M1.6 11.31H10.8" class="gk"/><path d="M8.7 2.57V15.43M1.6 11.31H10.8" class="gw"/><path d="M8.2 2.08L0.9 11.01" class="gn"/></g>
<g transform="translate(28.9 0)"><ellipse cx="5.8" cy="8.9" rx="5.45" ry="8.55" class="go"/><ellipse cx="5.8" cy="8.9" rx="3.15" ry="7.25" class="go"/></g>
</g>
<g transform="translate(660 586.7)"><text class="t" x="0" y="17">260</text>
<g transform="translate(0 0)"><path d="M8.5 3.01C9.2 3.94 9.4 4.98 9.2 6.01C8.9 7.67 7.6 9.13 5.6 11.2L1.6 15.14" class="gk"/><path d="M8.5 3.01C9.2 3.94 9.4 4.98 9.2 6.01C8.9 7.67 7.6 9.13 5.6 11.2L1.6 15.14" class="gw"/><path d="M1 3.52C1.4 1.85 2.6 0.85 4.6 0.74C6.4 0.74 7.7 1.41 8.5 2.62M1.8 16.5H10.2" class="gn"/></g>
<g transform="translate(13.9 0)"><path d="M3.4 2.84C2.2 4.37 1.6 6.55 1.5 9.39C1.5 12.01 2 13.98 3 15.18M7.6 7.86C9 8.74 9.7 10.05 9.7 11.68C9.7 13.32 9 14.63 7.8 15.51" class="gk"/><path d="M3.4 2.84C2.2 4.37 1.6 6.55 1.5 9.39C1.5 12.01 2 13.98 3 15.18M7.6 7.86C9 8.74 9.7 10.05 9.7 11.68C9.7 13.32 9 14.63 7.8 15.51" class="gw"/><path d="M8.8 3.11C8.2 1.71 7 0.9 5.6 1.02C4.8 1.14 4 1.59 3.4 2.41M3 15.62C3.8 16.55 4.6 16.9 5.6 16.9C6.4 16.9 7.2 16.55 7.8 15.97M1.7 10.59C2.4 8.5 3.8 7.21 5.6 7.21C6.4 7.21 7 7.44 7.6 7.79" class="gn"/></g>
<g transform="translate(28.2 0)"><ellipse cx="5.8" cy="8.9" rx="5.45" ry="8.55" class="go"/><ellipse cx="5.8" cy="8.9" rx="3.15" ry="7.25" class="go"/></g>
</g>
<g transform="translate(706.7 579.2)"><text class="t" x="0" y="17">270</text>
<g transform="translate(0 0)"><path d="M8.5 3.01C9.2 3.94 9.4 4.98 9.2 6.01C8.9 7.67 7.6 9.13 5.6 11.2L1.6 15.14" class="gk"/><path d="M8.5 3.01C9.2 3.94 9.4 4.98 9.2 6.01C8.9 7.67 7.6 9.13 5.6 11.2L1.6 15.14" class="gw"/><path d="M1 3.52C1.4 1.85 2.6 0.85 4.6 0.74C6.4 0.74 7.7 1.41 8.5 2.62M1.8 16.5H10.2" class="gn"/></g>
<g transform="translate(13.9 0)"><path d="M9.6 2.47L3.4 15.83" class="gk"/><path d="M9.6 2.47L3.4 15.83" class="gw"/><path d="M0.8 1.88H10.2" class="gn"/></g>
<g transform="translate(27.8 0)"><ellipse cx="5.8" cy="8.9" rx="5.45" ry="8.55" class="go"/><ellipse cx="5.8" cy="8.9" rx="3.15" ry="7.25" class="go"/></g>
</g>
<g transform="translate(703.7 647.2)"><text class="t" x="0" y="17">280</text>
<g transform="translate(0 0)"><path d="M8.5 3.01C9.2 3.94 9.4 4.98 9.2 6.01C8.9 7.67 7.6 9.13 5.6 11.2L1.6 15.14" class="gk"/><path d="M8.5 3.01C9.2 3.94 9.4 4.98 9.2 6.01C8.9 7.67 7.6 9.13 5.6 11.2L1.6 15.14" class="gw"/><path d="M1 3.52C1.4 1.85 2.6 0.85 4.6 0.74C6.4 0.74 7.7 1.41 8.5 2.62M1.8 16.5H10.2" class="gn"/></g>
<g transform="translate(13.9 0)"><path d="M2.6 2.84C2 3.71 1.9 4.8 2.2 5.9C2.6 6.99 3.4 7.64 4.4 8.08M7.7 2.84C8.3 3.71 8.4 4.8 8.1 5.9C7.7 6.99 6.9 7.64 5.9 8.08M4.4 8.3C2.8 8.95 1.6 10.26 1.4 12.01C1.3 13.54 1.9 14.85 3 15.62M5.9 8.3C7.5 8.95 8.7 10.26 8.9 12.01C9 13.54 8.4 14.85 7.3 15.62" class="gk"/><path d="M2.6 2.84C2 3.71 1.9 4.8 2.2 5.9C2.6 6.99 3.4 7.64 4.4 8.08M7.7 2.84C8.3 3.71 8.4 4.8 8.1 5.9C7.7 6.99 6.9 7.64 5.9 8.08M4.4 8.3C2.8 8.95 1.6 10.26 1.4 12.01C1.3 13.54 1.9 14.85 3 15.62M5.9 8.3C7.5 8.95 8.7 10.26 8.9 12.01C9 13.54 8.4 14.85 7.3 15.62" class="gw"/><path d="M2.6 2.41C3.2 1.49 4.1 1.02 5.15 1.02C6.2 1.02 7.1 1.49 7.7 2.41M3 16.09C3.6 16.67 4.4 16.9 5.15 16.9C5.9 16.9 6.7 16.67 7.3 16.09M4.2 8.15H6.1" class="gn"/></g>
<g transform="translate(27.2 0)"><ellipse cx="5.8" cy="8.9" rx="5.45" ry="8.55" class="go"/><ellipse cx="5.8" cy="8.9" rx="3.15" ry="7.25" class="go"/></g>
</g>
<g transform="translate(776.7 489.2)"><text class="t" x="0" y="17">250</text>
<g transform="translate(0 0)"><path d="M8.5 3.01C9.2 3.94 9.4 4.98 9.2 6.01C8.9 7.67 7.6 9.13 5.6 11.2L1.6 15.14" class="gk"/><path d="M8.5 3.01C9.2 3.94 9.4 4.98 9.2 6.01C8.9 7.67 7.6 9.13 5.6 11.2L1.6 15.14" class="gw"/><path d="M1 3.52C1.4 1.85 2.6 0.85 4.6 0.74C6.4 0.74 7.7 1.41 8.5 2.62M1.8 16.5H10.2" class="gn"/></g>
<g transform="translate(13.9 0)"><path d="M6.6 8.37C7.9 9.2 8.5 10.65 8.5 12.2C8.5 13.97 7.8 15.21 6.6 15.94" class="gk"/><path d="M6.6 8.37C7.9 9.2 8.5 10.65 8.5 12.2C8.5 13.97 7.8 15.21 6.6 15.94" class="gw"/><path d="M1 1.42H8.6V2.75M1.7 1.42V8.52M1.6 8.74C2.6 7.86 3.8 7.41 5 7.52C5.6 7.63 6.2 7.86 6.6 8.29M6.6 16.4C5.4 17.07 3.8 17.07 2.8 16.73C1.8 16.29 1.2 15.63 0.9 14.73" class="gn"/></g>
<g transform="translate(26.7 0)"><ellipse cx="5.8" cy="8.9" rx="5.45" ry="8.55" class="go"/><ellipse cx="5.8" cy="8.9" rx="3.15" ry="7.25" class="go"/></g>
</g>
<g transform="translate(856.7 526.2)"><text class="t" x="0" y="17">220</text>
<g transform="translate(0 0)"><path d="M8.5 3.01C9.2 3.94 9.4 4.98 9.2 6.01C8.9 7.67 7.6 9.13 5.6 11.2L1.6 15.14" class="gk"/><path d="M8.5 3.01C9.2 3.94 9.4 4.98 9.2 6.01C8.9 7.67 7.6 9.13 5.6 11.2L1.6 15.14" class="gw"/><path d="M1 3.52C1.4 1.85 2.6 0.85 4.6 0.74C6.4 0.74 7.7 1.41 8.5 2.62M1.8 16.5H10.2" class="gn"/></g>
<g transform="translate(13.9 0)"><path d="M8.5 3.01C9.2 3.94 9.4 4.98 9.2 6.01C8.9 7.67 7.6 9.13 5.6 11.2L1.6 15.14" class="gk"/><path d="M8.5 3.01C9.2 3.94 9.4 4.98 9.2 6.01C8.9 7.67 7.6 9.13 5.6 11.2L1.6 15.14" class="gw"/><path d="M1 3.52C1.4 1.85 2.6 0.85 4.6 0.74C6.4 0.74 7.7 1.41 8.5 2.62M1.8 16.5H10.2" class="gn"/></g>
<g transform="translate(27.8 0)"><ellipse cx="5.8" cy="8.9" rx="5.45" ry="8.55" class="go"/><ellipse cx="5.8" cy="8.9" rx="3.15" ry="7.25" class="go"/></g>
</g>
<g transform="translate(891.7 708.2)"><text class="t" x="0" y="17">210</text>
<g transform="translate(0 0)"><path d="M8.5 3.01C9.2 3.94 9.4 4.98 9.2 6.01C8.9 7.67 7.6 9.13 5.6 11.2L1.6 15.14" class="gk"/><path d="M8.5 3.01C9.2 3.94 9.4 4.98 9.2 6.01C8.9 7.67 7.6 9.13 5.6 11.2L1.6 15.14" class="gw"/><path d="M1 3.52C1.4 1.85 2.6 0.85 4.6 0.74C6.4 0.74 7.7 1.41 8.5 2.62M1.8 16.5H10.2" class="gn"/></g>
<g transform="translate(13.9 0)"><path d="M4.7 2.57V15.34" class="gk"/><path d="M4.7 2.57V15.34" class="gw"/><path d="M1 3.85L4.2 1.98M0.7 16.22H3.6M5.8 16.22H8.6" class="gn"/></g>
<g transform="translate(26.1 0)"><ellipse cx="5.8" cy="8.9" rx="5.45" ry="8.55" class="go"/><ellipse cx="5.8" cy="8.9" rx="3.15" ry="7.25" class="go"/></g>
</g>
<g transform="translate(732 357.2)"><text class="t" x="0" y="17">550</text>
<g transform="translate(0 0)"><path d="M6.6 8.37C7.9 9.2 8.5 10.65 8.5 12.2C8.5 13.97 7.8 15.21 6.6 15.94" class="gk"/><path d="M6.6 8.37C7.9 9.2 8.5 10.65 8.5 12.2C8.5 13.97 7.8 15.21 6.6 15.94" class="gw"/><path d="M1 1.42H8.6V2.75M1.7 1.42V8.52M1.6 8.74C2.6 7.86 3.8 7.41 5 7.52C5.6 7.63 6.2 7.86 6.6 8.29M6.6 16.4C5.4 17.07 3.8 17.07 2.8 16.73C1.8 16.29 1.2 15.63 0.9 14.73" class="gn"/></g>
<g transform="translate(12.8 0)"><path d="M6.6 8.37C7.9 9.2 8.5 10.65 8.5 12.2C8.5 13.97 7.8 15.21 6.6 15.94" class="gk"/><path d="M6.6 8.37C7.9 9.2 8.5 10.65 8.5 12.2C8.5 13.97 7.8 15.21 6.6 15.94" class="gw"/><path d="M1 1.42H8.6V2.75M1.7 1.42V8.52M1.6 8.74C2.6 7.86 3.8 7.41 5 7.52C5.6 7.63 6.2 7.86 6.6 8.29M6.6 16.4C5.4 17.07 3.8 17.07 2.8 16.73C1.8 16.29 1.2 15.63 0.9 14.73" class="gn"/></g>
<g transform="translate(25.6 0)"><ellipse cx="5.8" cy="8.9" rx="5.45" ry="8.55" class="go"/><ellipse cx="5.8" cy="8.9" rx="3.15" ry="7.25" class="go"/></g>
</g>
<g transform="translate(1025.7 533.2)"><text class="t" x="0" y="17">290</text>
<g transform="translate(0 0)"><path d="M8.5 3.01C9.2 3.94 9.4 4.98 9.2 6.01C8.9 7.67 7.6 9.13 5.6 11.2L1.6 15.14" class="gk"/><path d="M8.5 3.01C9.2 3.94 9.4 4.98 9.2 6.01C8.9 7.67 7.6 9.13 5.6 11.2L1.6 15.14" class="gw"/><path d="M1 3.52C1.4 1.85 2.6 0.85 4.6 0.74C6.4 0.74 7.7 1.41 8.5 2.62M1.8 16.5H10.2" class="gn"/></g>
<g transform="translate(13.9 0)"><g transform="rotate(180 5.65 8.9)"><path d="M3.4 2.84C2.2 4.37 1.6 6.55 1.5 9.39C1.5 12.01 2 13.98 3 15.18M7.6 7.86C9 8.74 9.7 10.05 9.7 11.68C9.7 13.32 9 14.63 7.8 15.51" class="gk"/><path d="M3.4 2.84C2.2 4.37 1.6 6.55 1.5 9.39C1.5 12.01 2 13.98 3 15.18M7.6 7.86C9 8.74 9.7 10.05 9.7 11.68C9.7 13.32 9 14.63 7.8 15.51" class="gw"/><path d="M8.8 3.11C8.2 1.71 7 0.9 5.6 1.02C4.8 1.14 4 1.59 3.4 2.41M3 15.62C3.8 16.55 4.6 16.9 5.6 16.9C6.4 16.9 7.2 16.55 7.8 15.97M1.7 10.59C2.4 8.5 3.8 7.21 5.6 7.21C6.4 7.21 7 7.44 7.6 7.79" class="gn"/></g></g>
<g transform="translate(28.2 0)"><ellipse cx="5.8" cy="8.9" rx="5.45" ry="8.55" class="go"/><ellipse cx="5.8" cy="8.9" rx="3.15" ry="7.25" class="go"/></g>
</g>
<g transform="translate(1180.7 491.2)"><text class="t" x="0" y="17">405</text>
<g transform="translate(0 0)"><path d="M8.7 2.57V15.43M1.6 11.31H10.8" class="gk"/><path d="M8.7 2.57V15.43M1.6 11.31H10.8" class="gw"/><path d="M8.2 2.08L0.9 11.01" class="gn"/></g>
<g transform="translate(15 0)"><ellipse cx="5.8" cy="8.9" rx="5.45" ry="8.55" class="go"/><ellipse cx="5.8" cy="8.9" rx="3.15" ry="7.25" class="go"/></g>
<g transform="translate(29.6 0)"><path d="M6.6 8.37C7.9 9.2 8.5 10.65 8.5 12.2C8.5 13.97 7.8 15.21 6.6 15.94" class="gk"/><path d="M6.6 8.37C7.9 9.2 8.5 10.65 8.5 12.2C8.5 13.97 7.8 15.21 6.6 15.94" class="gw"/><path d="M1 1.42H8.6V2.75M1.7 1.42V8.52M1.6 8.74C2.6 7.86 3.8 7.41 5 7.52C5.6 7.63 6.2 7.86 6.6 8.29M6.6 16.4C5.4 17.07 3.8 17.07 2.8 16.73C1.8 16.29 1.2 15.63 0.9 14.73" class="gn"/></g>
</g>
<g transform="translate(1115.7 568.2)"><text class="t" x="0" y="17">410</text>
<g transform="translate(0 0)"><path d="M8.7 2.57V15.43M1.6 11.31H10.8" class="gk"/><path d="M8.7 2.57V15.43M1.6 11.31H10.8" class="gw"/><path d="M8.2 2.08L0.9 11.01" class="gn"/></g>
<g transform="translate(15 0)"><path d="M4.7 2.57V15.34" class="gk"/><path d="M4.7 2.57V15.34" class="gw"/><path d="M1 3.85L4.2 1.98M0.7 16.22H3.6M5.8 16.22H8.6" class="gn"/></g>
<g transform="translate(27.2 0)"><ellipse cx="5.8" cy="8.9" rx="5.45" ry="8.55" class="go"/><ellipse cx="5.8" cy="8.9" rx="3.15" ry="7.25" class="go"/></g>
</g>
<g transform="translate(1018.6 216.2)"><text class="t" x="0" y="17">350</text>
<g transform="translate(0 0)"><path d="M7.8 3.06C8.4 4.15 8.4 5.46 7.8 6.55C7.2 7.53 6.2 8.08 4.8 8.19C6.8 8.3 8.4 9.83 8.6 12.01C8.7 13.76 8 15.07 6.8 15.83" class="gk"/><path d="M7.8 3.06C8.4 4.15 8.4 5.46 7.8 6.55C7.2 7.53 6.2 8.08 4.8 8.19C6.8 8.3 8.4 9.83 8.6 12.01C8.7 13.76 8 15.07 6.8 15.83" class="gw"/><path d="M1 3C1.6 1.49 2.8 0.78 4.6 0.78C6.2 0.78 7.2 1.49 7.8 2.65M6.8 16.33C5.6 17.02 4 17.13 2.8 16.67C1.8 16.21 1 15.27 0.7 14.1M3 8.15H5" class="gn"/></g>
<g transform="translate(12.9 0)"><path d="M6.6 8.37C7.9 9.2 8.5 10.65 8.5 12.2C8.5 13.97 7.8 15.21 6.6 15.94" class="gk"/><path d="M6.6 8.37C7.9 9.2 8.5 10.65 8.5 12.2C8.5 13.97 7.8 15.21 6.6 15.94" class="gw"/><path d="M1 1.42H8.6V2.75M1.7 1.42V8.52M1.6 8.74C2.6 7.86 3.8 7.41 5 7.52C5.6 7.63 6.2 7.86 6.6 8.29M6.6 16.4C5.4 17.07 3.8 17.07 2.8 16.73C1.8 16.29 1.2 15.63 0.9 14.73" class="gn"/></g>
<g transform="translate(25.7 0)"><ellipse cx="5.8" cy="8.9" rx="5.45" ry="8.55" class="go"/><ellipse cx="5.8" cy="8.9" rx="3.15" ry="7.25" class="go"/></g>
</g>
<g transform="translate(1010.6 251.9)"><text class="t" x="0" y="17">370</text>
<g transform="translate(0 0)"><path d="M7.8 3.06C8.4 4.15 8.4 5.46 7.8 6.55C7.2 7.53 6.2 8.08 4.8 8.19C6.8 8.3 8.4 9.83 8.6 12.01C8.7 13.76 8 15.07 6.8 15.83" class="gk"/><path d="M7.8 3.06C8.4 4.15 8.4 5.46 7.8 6.55C7.2 7.53 6.2 8.08 4.8 8.19C6.8 8.3 8.4 9.83 8.6 12.01C8.7 13.76 8 15.07 6.8 15.83" class="gw"/><path d="M1 3C1.6 1.49 2.8 0.78 4.6 0.78C6.2 0.78 7.2 1.49 7.8 2.65M6.8 16.33C5.6 17.02 4 17.13 2.8 16.67C1.8 16.21 1 15.27 0.7 14.1M3 8.15H5" class="gn"/></g>
<g transform="translate(12.9 0)"><path d="M9.6 2.47L3.4 15.83" class="gk"/><path d="M9.6 2.47L3.4 15.83" class="gw"/><path d="M0.8 1.88H10.2" class="gn"/></g>
<g transform="translate(26.8 0)"><ellipse cx="5.8" cy="8.9" rx="5.45" ry="8.55" class="go"/><ellipse cx="5.8" cy="8.9" rx="3.15" ry="7.25" class="go"/></g>
</g>
<g transform="translate(1060.7 283.9)"><text class="t" x="0" y="17">360</text>
<g transform="translate(0 0)"><path d="M7.8 3.06C8.4 4.15 8.4 5.46 7.8 6.55C7.2 7.53 6.2 8.08 4.8 8.19C6.8 8.3 8.4 9.83 8.6 12.01C8.7 13.76 8 15.07 6.8 15.83" class="gk"/><path d="M7.8 3.06C8.4 4.15 8.4 5.46 7.8 6.55C7.2 7.53 6.2 8.08 4.8 8.19C6.8 8.3 8.4 9.83 8.6 12.01C8.7 13.76 8 15.07 6.8 15.83" class="gw"/><path d="M1 3C1.6 1.49 2.8 0.78 4.6 0.78C6.2 0.78 7.2 1.49 7.8 2.65M6.8 16.33C5.6 17.02 4 17.13 2.8 16.67C1.8 16.21 1 15.27 0.7 14.1M3 8.15H5" class="gn"/></g>
<g transform="translate(12.9 0)"><path d="M3.4 2.84C2.2 4.37 1.6 6.55 1.5 9.39C1.5 12.01 2 13.98 3 15.18M7.6 7.86C9 8.74 9.7 10.05 9.7 11.68C9.7 13.32 9 14.63 7.8 15.51" class="gk"/><path d="M3.4 2.84C2.2 4.37 1.6 6.55 1.5 9.39C1.5 12.01 2 13.98 3 15.18M7.6 7.86C9 8.74 9.7 10.05 9.7 11.68C9.7 13.32 9 14.63 7.8 15.51" class="gw"/><path d="M8.8 3.11C8.2 1.71 7 0.9 5.6 1.02C4.8 1.14 4 1.59 3.4 2.41M3 15.62C3.8 16.55 4.6 16.9 5.6 16.9C6.4 16.9 7.2 16.55 7.8 15.97M1.7 10.59C2.4 8.5 3.8 7.21 5.6 7.21C6.4 7.21 7 7.44 7.6 7.79" class="gn"/></g>
<g transform="translate(27.2 0)"><ellipse cx="5.8" cy="8.9" rx="5.45" ry="8.55" class="go"/><ellipse cx="5.8" cy="8.9" rx="3.15" ry="7.25" class="go"/></g>
</g>
</g>
</svg>
</body></html>
